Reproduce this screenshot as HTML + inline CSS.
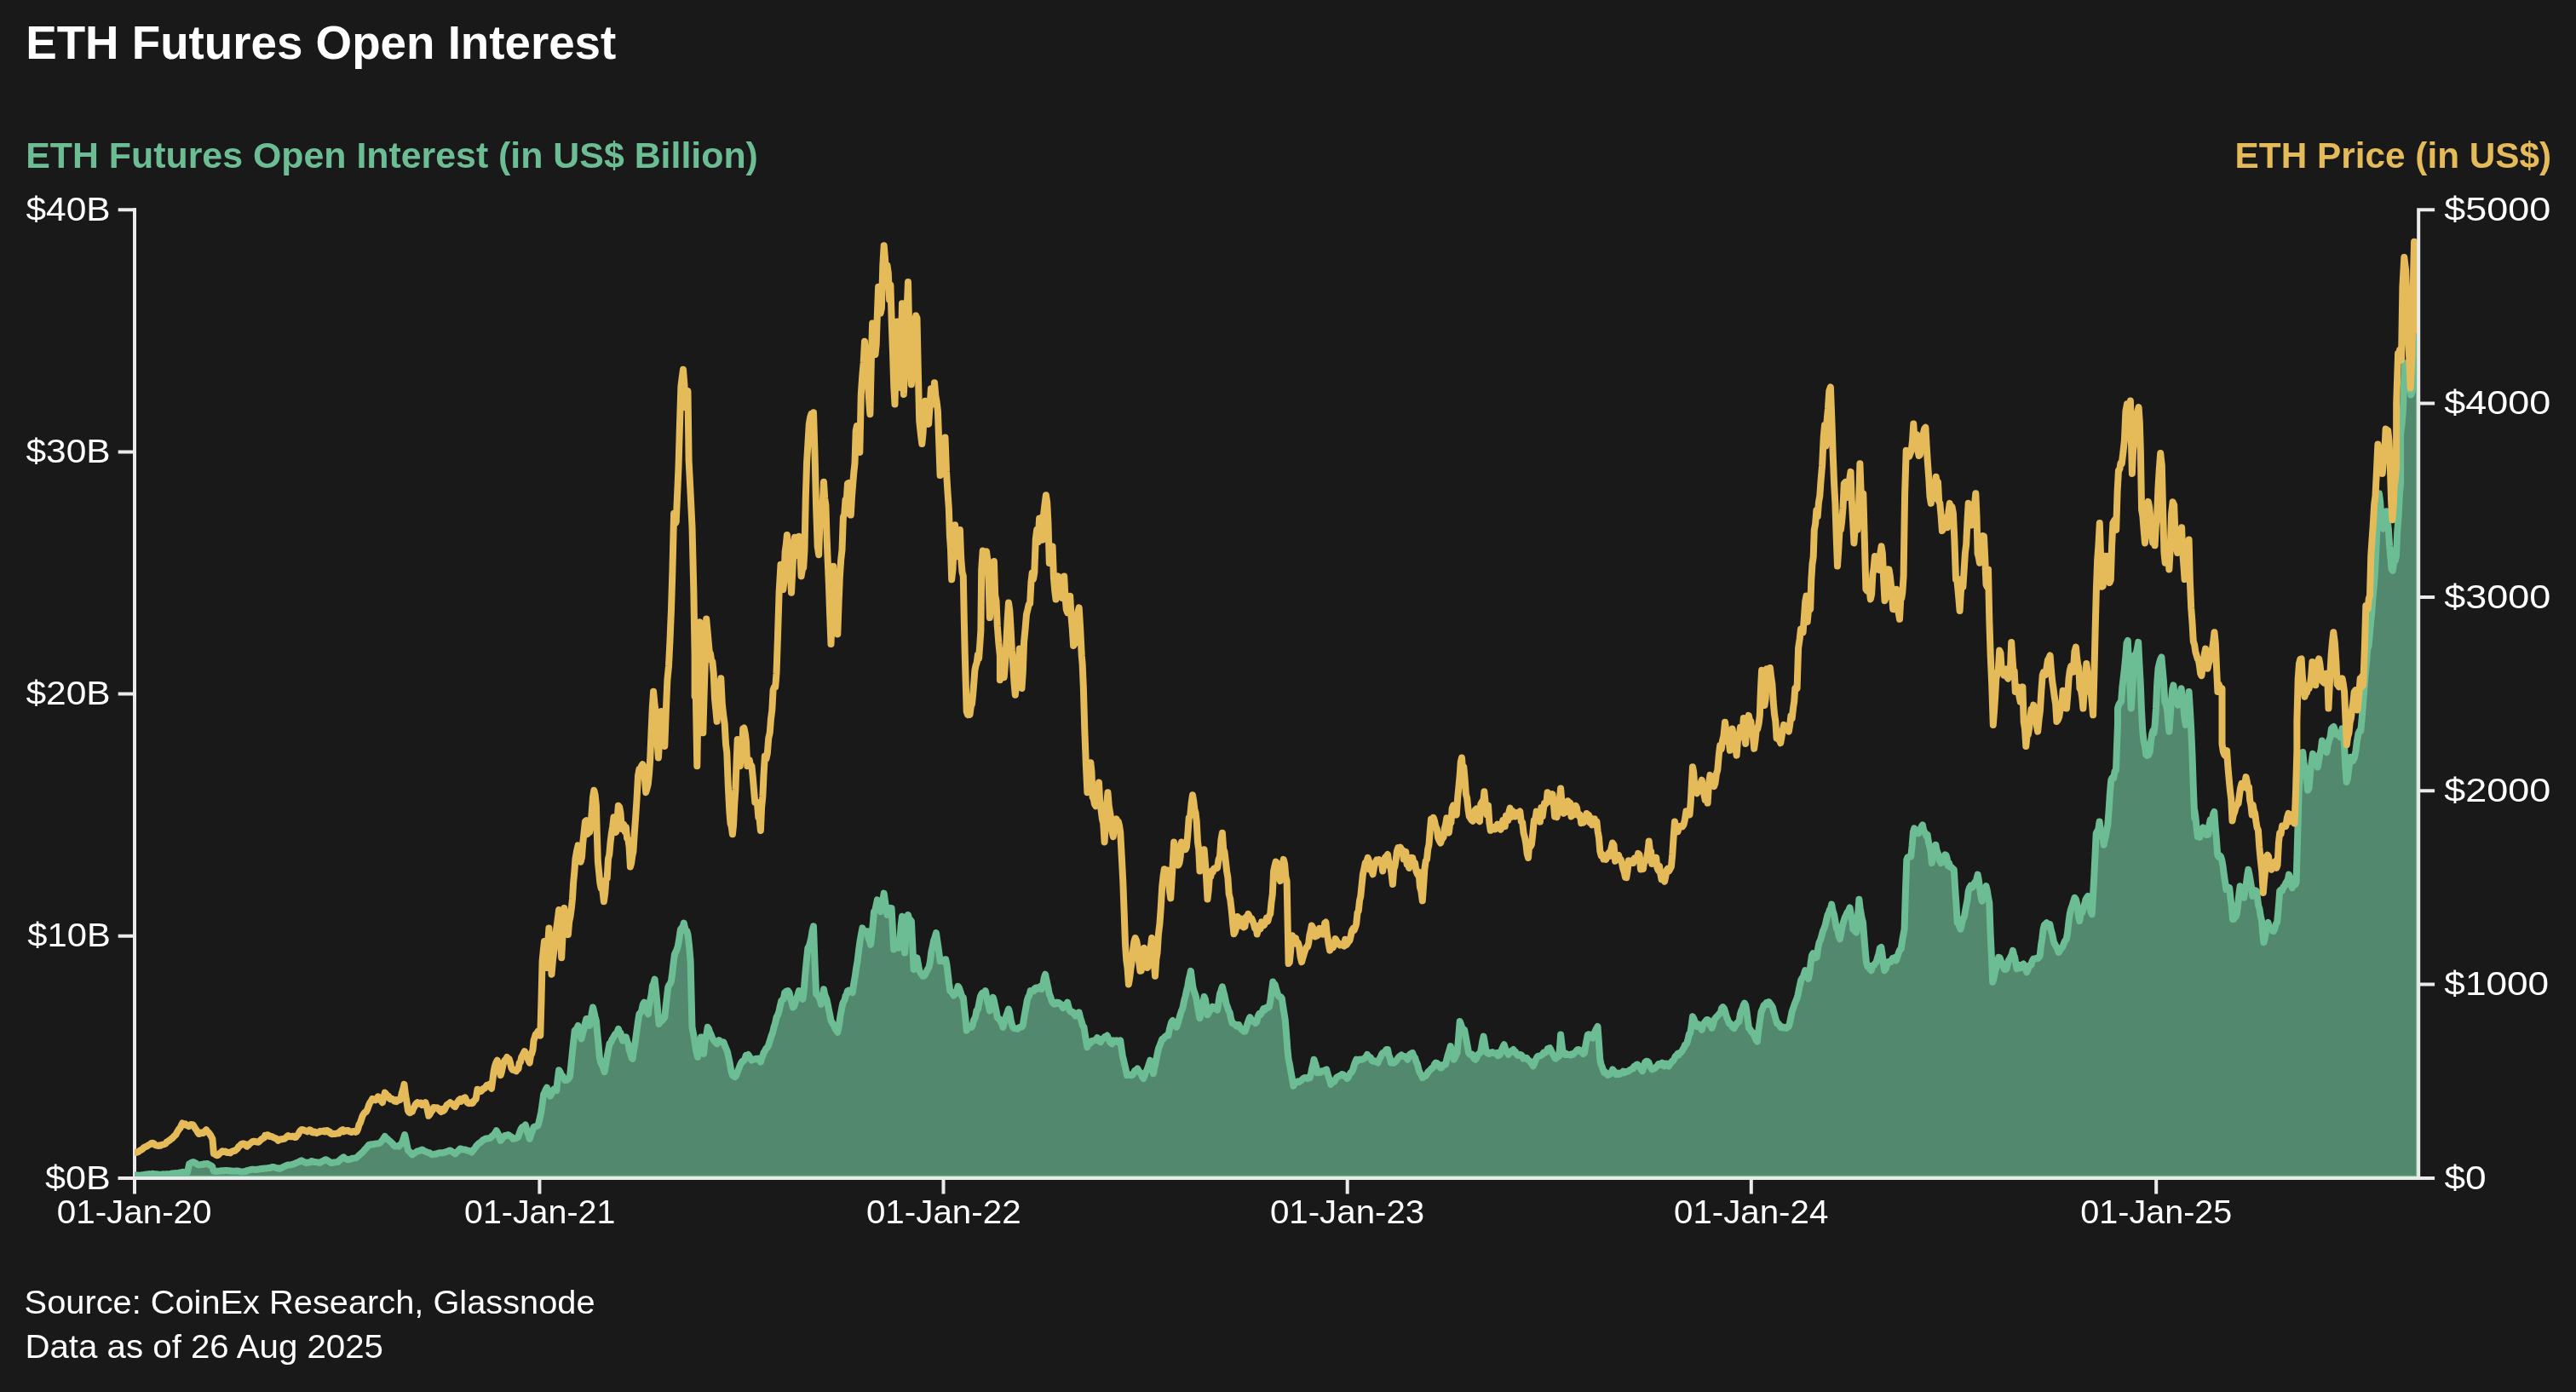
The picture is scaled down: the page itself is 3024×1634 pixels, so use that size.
<!DOCTYPE html>
<html lang="en"><head><meta charset="utf-8"><title>ETH Futures Open Interest</title>
<style>html,body{margin:0;padding:0;background:#191919;}body{width:3024px;height:1634px;overflow:hidden;}svg{display:block;will-change:transform;}text{font-family:"Liberation Sans", sans-serif;}</style></head><body>
<svg width="3024" height="1634" viewBox="0 0 3024 1634">
<rect width="3024" height="1634" fill="#191919"/>
<defs><clipPath id="cp"><rect x="158.0" y="200" width="2681.2" height="1183.0"/></clipPath></defs>
<path d="M158.0,244.2 V1401.5 M138.7,1383.0 H158.0" fill="none" stroke="#ebebeb" stroke-width="4" stroke-linecap="butt"/>
<g clip-path="url(#cp)" stroke-linejoin="round" stroke-linecap="round">
<path d="M158.0,1379.2 L159.1,1379.8 L160.5,1379.6 L161.8,1379.6 L163.2,1379.7 L164.5,1379.8 L165.8,1379.5 L167.2,1379.3 L168.5,1379.1 L169.8,1378.8 L171.2,1378.6 L172.5,1378.4 L173.9,1378.4 L175.2,1378.1 L176.6,1378.4 L177.9,1378.4 L179.3,1377.7 L180.6,1378.2 L182.0,1378.2 L183.4,1378.2 L184.7,1378.4 L186.1,1378.6 L187.4,1378.8 L188.8,1378.7 L190.1,1378.7 L191.4,1378.3 L192.7,1378.7 L194.0,1378.4 L195.3,1378.3 L196.6,1378.3 L197.8,1378.3 L199.1,1378.3 L200.4,1378.4 L201.7,1377.5 L203.0,1377.4 L204.3,1377.3 L205.6,1377.1 L206.9,1377.5 L208.2,1377.2 L209.5,1377.1 L210.8,1376.6 L212.1,1376.6 L213.4,1376.1 L214.7,1375.7 L216.0,1376.2 L217.3,1376.4 L218.6,1376.3 L219.9,1376.3 L221.1,1371.1 L222.2,1366.0 L223.7,1365.6 L225.2,1364.5 L226.7,1364.1 L227.9,1364.4 L229.1,1365.3 L230.3,1365.8 L231.5,1367.0 L232.9,1367.4 L234.4,1367.4 L235.9,1367.1 L237.3,1367.0 L238.5,1366.8 L239.7,1366.3 L240.8,1366.2 L242.0,1366.2 L243.2,1366.0 L244.6,1366.6 L246.1,1367.5 L247.6,1368.1 L249.0,1369.0 L250.9,1374.8 L252.2,1374.7 L253.5,1375.1 L254.8,1375.0 L256.1,1374.7 L257.4,1374.7 L258.7,1374.5 L260.0,1374.3 L261.3,1374.2 L262.6,1374.4 L263.9,1374.0 L265.2,1374.1 L266.5,1374.1 L267.8,1374.2 L269.0,1374.5 L270.3,1374.3 L271.6,1374.6 L272.9,1374.7 L274.2,1374.8 L275.5,1374.7 L276.8,1374.6 L278.1,1374.4 L279.4,1374.5 L280.7,1375.0 L282.0,1375.2 L283.3,1375.4 L284.6,1375.5 L285.9,1375.4 L287.2,1375.0 L288.5,1375.1 L289.8,1374.2 L291.1,1373.9 L292.3,1373.7 L293.6,1373.2 L294.9,1372.9 L296.2,1372.7 L297.5,1372.8 L298.8,1372.9 L300.1,1373.0 L301.4,1372.8 L302.7,1372.7 L304.0,1372.5 L305.3,1372.3 L306.6,1371.9 L307.9,1371.8 L309.2,1371.9 L310.5,1371.6 L311.8,1371.5 L313.1,1371.4 L314.4,1371.1 L315.6,1371.1 L316.9,1371.0 L318.2,1370.4 L319.5,1369.9 L320.8,1369.9 L322.1,1370.3 L323.4,1370.8 L324.7,1371.1 L326.0,1371.4 L327.3,1371.3 L328.6,1371.9 L329.9,1371.1 L331.2,1370.8 L332.5,1369.9 L333.7,1369.2 L335.0,1368.7 L336.3,1368.0 L337.7,1367.6 L339.1,1367.5 L340.5,1367.4 L341.8,1367.2 L343.2,1366.9 L344.6,1366.4 L346.0,1366.0 L347.3,1365.3 L348.6,1364.7 L349.9,1364.3 L351.2,1363.7 L352.5,1362.9 L353.8,1362.2 L355.2,1363.1 L356.7,1363.8 L358.2,1364.4 L359.6,1365.1 L360.8,1364.9 L362.0,1364.5 L363.1,1364.4 L364.3,1364.2 L365.5,1363.1 L366.9,1363.2 L368.3,1364.1 L369.7,1363.9 L371.0,1364.1 L372.4,1364.5 L373.8,1364.6 L375.2,1365.1 L376.5,1364.3 L377.8,1363.5 L379.0,1363.0 L380.3,1362.3 L381.6,1361.5 L382.9,1361.2 L384.3,1362.2 L385.8,1363.2 L387.2,1364.1 L388.7,1365.1 L390.0,1364.9 L391.3,1364.5 L392.6,1364.4 L393.9,1364.3 L395.2,1364.1 L396.5,1364.1 L397.9,1362.7 L399.2,1361.5 L400.6,1360.2 L401.9,1359.3 L403.3,1358.3 L404.5,1359.4 L405.8,1360.4 L407.0,1360.9 L408.2,1361.2 L409.6,1361.0 L411.0,1360.7 L412.4,1360.3 L413.7,1359.8 L415.1,1359.6 L416.5,1359.4 L417.9,1359.2 L419.2,1358.3 L420.5,1357.2 L421.8,1355.7 L423.0,1354.7 L424.3,1353.6 L425.6,1352.5 L426.9,1351.1 L428.2,1349.4 L429.5,1348.3 L430.8,1346.7 L432.1,1345.2 L433.4,1343.7 L434.7,1343.8 L436.0,1343.2 L437.2,1343.4 L438.5,1343.2 L439.8,1342.7 L441.1,1342.7 L442.3,1342.4 L443.5,1342.4 L444.6,1342.2 L445.8,1341.9 L447.0,1340.8 L448.2,1339.3 L449.4,1337.8 L450.6,1336.0 L451.8,1334.0 L453.0,1335.6 L454.2,1336.4 L455.5,1337.8 L456.7,1338.9 L458.1,1339.8 L459.6,1341.3 L461.1,1342.7 L462.5,1344.7 L463.9,1345.5 L465.4,1345.4 L466.9,1345.2 L468.3,1345.7 L469.6,1344.3 L470.9,1342.6 L472.2,1340.8 L473.6,1336.7 L475.1,1332.1 L476.4,1337.9 L477.7,1344.3 L479.0,1350.5 L480.2,1351.5 L481.4,1352.5 L482.7,1353.7 L483.9,1355.4 L485.3,1354.3 L486.8,1353.7 L488.2,1352.5 L489.7,1351.5 L491.1,1351.3 L492.6,1350.7 L494.1,1350.3 L495.5,1349.5 L496.9,1350.3 L498.4,1351.3 L499.9,1351.8 L501.3,1352.5 L502.8,1353.1 L504.2,1353.2 L505.7,1354.6 L507.1,1355.4 L508.4,1355.2 L509.7,1354.9 L511.0,1354.5 L512.3,1354.8 L513.6,1353.9 L514.9,1353.4 L516.2,1353.3 L517.5,1353.2 L518.8,1353.4 L520.1,1353.2 L521.4,1352.8 L522.7,1352.5 L524.2,1351.9 L525.6,1351.4 L527.0,1350.8 L528.5,1350.5 L530.0,1351.3 L531.4,1352.4 L532.8,1353.5 L534.3,1354.4 L535.8,1352.8 L537.2,1351.7 L538.6,1350.1 L540.1,1348.6 L541.3,1348.5 L542.5,1349.2 L543.6,1349.4 L544.8,1349.4 L546.0,1349.5 L547.3,1350.0 L548.6,1350.6 L549.9,1350.7 L551.1,1350.9 L552.4,1351.6 L553.7,1352.5 L555.2,1350.5 L556.6,1348.9 L558.0,1347.1 L559.5,1344.7 L560.8,1343.6 L562.1,1342.2 L563.4,1341.5 L564.7,1340.5 L566.0,1339.4 L567.3,1337.9 L568.6,1337.7 L569.9,1336.6 L571.2,1336.4 L572.5,1336.7 L573.8,1335.9 L575.1,1336.0 L576.4,1335.2 L577.7,1333.6 L579.0,1332.7 L580.2,1331.3 L581.5,1329.6 L582.8,1327.2 L584.0,1329.6 L585.2,1331.9 L586.5,1335.9 L587.7,1338.9 L588.9,1337.5 L590.1,1335.5 L591.3,1334.9 L592.5,1333.0 L593.8,1333.0 L595.1,1332.8 L596.4,1332.1 L597.6,1332.7 L598.8,1333.7 L599.9,1334.0 L601.1,1335.2 L602.3,1336.9 L603.8,1336.6 L605.2,1336.4 L606.6,1335.5 L608.1,1335.0 L609.3,1331.4 L610.5,1328.0 L611.7,1325.2 L612.9,1323.3 L614.2,1322.7 L615.5,1322.1 L616.8,1320.4 L618.0,1325.1 L619.2,1329.2 L620.5,1333.1 L621.7,1336.9 L622.9,1333.5 L624.1,1329.9 L625.3,1326.8 L626.5,1323.3 L627.7,1322.4 L629.0,1322.3 L630.2,1321.9 L631.4,1321.4 L632.7,1317.0 L633.9,1311.8 L635.2,1305.9 L636.7,1295.5 L638.2,1284.5 L639.5,1282.1 L640.7,1279.0 L642.0,1276.8 L643.3,1280.7 L644.6,1283.2 L645.9,1286.5 L647.3,1284.4 L648.6,1281.1 L650.0,1278.7 L651.1,1279.4 L652.2,1279.4 L653.3,1280.0 L654.7,1266.8 L656.1,1256.3 L657.5,1258.1 L658.9,1261.9 L660.2,1262.8 L661.6,1265.3 L663.0,1268.0 L664.2,1267.7 L665.4,1267.9 L666.5,1267.0 L667.7,1265.7 L668.9,1264.1 L670.4,1250.3 L671.8,1236.1 L673.2,1223.3 L674.7,1209.7 L676.0,1208.5 L677.3,1207.1 L678.6,1203.9 L679.9,1209.2 L681.2,1215.6 L682.5,1219.4 L684.0,1213.2 L685.4,1208.5 L686.8,1201.6 L688.3,1196.1 L689.6,1196.1 L690.9,1200.9 L692.2,1203.9 L693.5,1198.1 L694.7,1189.2 L696.0,1182.5 L697.3,1187.6 L698.6,1193.7 L699.9,1198.1 L701.2,1212.7 L702.5,1226.0 L703.8,1240.8 L705.2,1247.4 L706.7,1250.2 L708.1,1253.1 L709.6,1258.2 L710.8,1252.1 L712.0,1244.5 L713.1,1238.2 L714.3,1231.6 L715.5,1225.2 L717.0,1224.2 L718.4,1220.3 L719.8,1218.2 L721.3,1215.5 L722.4,1213.7 L723.6,1213.7 L724.8,1210.9 L725.9,1207.8 L727.2,1211.8 L728.5,1212.5 L729.7,1217.4 L731.0,1221.4 L732.3,1221.1 L733.6,1220.3 L734.9,1217.5 L736.2,1222.6 L737.5,1225.6 L738.8,1233.0 L740.0,1235.9 L741.3,1241.3 L742.6,1242.7 L743.9,1233.5 L745.2,1226.9 L746.5,1217.6 L747.8,1207.7 L749.1,1198.4 L750.4,1190.3 L751.9,1189.0 L753.3,1185.7 L754.8,1179.0 L756.2,1176.7 L757.4,1180.2 L758.5,1186.2 L759.7,1188.2 L760.9,1190.3 L762.1,1180.5 L763.4,1173.3 L764.6,1167.9 L765.9,1157.3 L767.2,1154.6 L768.6,1149.5 L769.9,1161.9 L771.2,1175.2 L772.4,1189.9 L773.7,1202.0 L775.0,1199.0 L776.3,1198.9 L777.7,1197.3 L779.0,1196.0 L780.3,1194.2 L781.6,1181.7 L782.9,1170.4 L784.2,1159.3 L785.5,1156.0 L786.7,1154.8 L788.0,1151.5 L789.3,1141.9 L790.6,1130.4 L791.9,1120.4 L793.2,1117.5 L794.5,1114.8 L795.8,1110.7 L797.3,1101.9 L798.9,1091.3 L800.2,1089.3 L801.5,1088.4 L802.8,1083.6 L804.0,1089.0 L805.1,1092.7 L806.3,1092.7 L807.5,1097.1 L809.0,1109.8 L810.6,1128.2 L812.5,1205.8 L813.8,1212.6 L815.1,1219.6 L816.4,1229.1 L817.8,1235.9 L819.1,1240.8 L820.4,1232.8 L821.7,1223.4 L823.0,1217.5 L824.5,1227.0 L826.1,1236.9 L827.2,1225.7 L828.4,1217.5 L829.6,1213.1 L830.7,1205.8 L832.0,1207.6 L833.2,1211.4 L834.5,1214.2 L835.8,1217.5 L837.2,1220.2 L838.7,1222.3 L840.1,1223.7 L841.6,1225.2 L842.9,1224.0 L844.2,1221.2 L845.5,1222.5 L846.8,1223.2 L848.1,1223.3 L849.4,1223.3 L850.5,1226.5 L851.7,1229.5 L852.9,1232.1 L854.0,1235.0 L855.3,1240.9 L856.5,1246.5 L857.8,1254.4 L859.1,1260.2 L860.4,1262.7 L861.7,1263.7 L863.0,1264.1 L864.5,1262.0 L865.9,1258.0 L867.3,1254.3 L868.8,1250.5 L870.2,1247.6 L871.6,1245.6 L873.0,1245.3 L874.4,1243.1 L875.8,1238.8 L877.1,1239.1 L878.4,1238.1 L879.8,1240.4 L881.1,1242.9 L882.4,1244.7 L883.9,1244.0 L885.3,1243.6 L886.8,1243.0 L888.2,1242.7 L889.4,1243.5 L890.5,1242.7 L891.7,1244.4 L892.9,1246.6 L894.1,1242.1 L895.4,1239.4 L896.6,1235.5 L897.9,1233.8 L899.1,1231.1 L900.4,1229.8 L901.7,1228.0 L903.1,1223.9 L904.4,1219.8 L905.7,1215.5 L907.2,1211.7 L908.6,1205.3 L910.0,1201.3 L911.5,1194.2 L913.0,1191.5 L914.4,1187.7 L915.8,1180.9 L917.3,1174.8 L918.6,1173.5 L919.9,1172.5 L921.2,1165.3 L922.5,1164.1 L923.8,1165.5 L925.1,1163.1 L926.5,1165.2 L928.0,1172.2 L929.5,1177.4 L930.9,1182.5 L932.3,1181.2 L933.7,1176.3 L935.1,1172.5 L936.5,1167.8 L937.9,1163.1 L939.0,1164.5 L940.2,1164.5 L941.4,1169.7 L942.5,1172.8 L943.7,1163.1 L944.9,1147.8 L946.0,1135.8 L947.2,1123.9 L948.4,1112.7 L949.7,1111.0 L951.0,1106.2 L952.3,1101.0 L953.6,1092.5 L955.0,1087.4 L956.5,1130.0 L958.1,1167.0 L959.5,1167.6 L961.0,1170.1 L962.5,1173.1 L963.9,1178.7 L965.5,1170.5 L967.0,1161.2 L968.2,1167.6 L969.4,1170.6 L970.5,1173.3 L971.7,1178.7 L973.0,1185.7 L974.2,1191.2 L975.5,1198.1 L976.8,1200.2 L978.1,1202.5 L979.4,1204.1 L980.7,1207.8 L982.0,1209.9 L983.3,1211.7 L984.8,1204.6 L986.2,1194.2 L987.6,1186.6 L989.1,1178.7 L990.3,1175.9 L991.5,1174.1 L992.6,1169.0 L993.8,1167.3 L995.0,1163.1 L996.5,1162.5 L997.9,1164.1 L999.3,1163.7 L1000.8,1165.1 L1002.2,1155.2 L1003.7,1146.7 L1005.1,1136.7 L1006.6,1128.2 L1008.0,1116.2 L1009.5,1105.1 L1011.0,1096.6 L1012.4,1089.4 L1013.9,1093.0 L1015.3,1093.9 L1016.8,1093.5 L1018.2,1093.3 L1019.5,1101.4 L1020.8,1104.2 L1022.1,1108.8 L1023.4,1097.2 L1024.7,1085.1 L1026.0,1070.0 L1027.3,1068.9 L1028.6,1062.5 L1029.9,1056.4 L1031.2,1062.1 L1032.5,1064.6 L1033.8,1070.0 L1035.1,1064.4 L1036.4,1056.6 L1037.7,1048.6 L1039.0,1057.8 L1040.2,1066.2 L1041.5,1073.9 L1042.8,1069.8 L1044.0,1066.3 L1045.3,1065.8 L1046.6,1066.1 L1047.9,1089.7 L1049.3,1114.6 L1050.8,1112.4 L1052.2,1111.9 L1053.6,1112.6 L1055.1,1112.7 L1056.4,1103.0 L1057.7,1086.0 L1059.0,1075.8 L1060.5,1095.2 L1062.1,1118.5 L1063.4,1101.1 L1064.7,1086.2 L1066.0,1073.9 L1067.3,1079.4 L1068.6,1079.7 L1069.9,1081.6 L1071.2,1108.2 L1072.6,1137.9 L1073.9,1132.9 L1075.2,1129.5 L1076.5,1124.3 L1077.8,1131.3 L1079.1,1138.7 L1080.4,1141.8 L1081.9,1143.5 L1083.3,1145.8 L1084.8,1145.6 L1086.2,1143.7 L1087.7,1140.6 L1089.1,1137.5 L1090.5,1135.6 L1092.0,1128.2 L1093.3,1117.2 L1094.6,1111.9 L1095.9,1104.9 L1097.5,1100.2 L1099.0,1095.2 L1100.2,1103.9 L1101.3,1110.8 L1102.4,1119.0 L1103.6,1128.2 L1104.9,1126.3 L1106.2,1127.0 L1107.6,1128.5 L1108.9,1126.5 L1110.2,1126.3 L1111.5,1133.1 L1112.8,1143.4 L1114.0,1154.0 L1115.3,1163.1 L1116.8,1164.2 L1118.2,1166.3 L1119.6,1168.6 L1121.1,1167.0 L1122.3,1165.7 L1123.4,1162.3 L1124.6,1157.9 L1125.8,1159.3 L1127.0,1162.6 L1128.3,1166.8 L1129.5,1170.1 L1130.8,1170.9 L1132.1,1183.6 L1133.4,1195.0 L1134.7,1209.7 L1136.2,1205.7 L1137.6,1206.1 L1139.0,1204.9 L1140.5,1205.8 L1141.7,1203.5 L1142.9,1198.0 L1144.0,1196.0 L1145.2,1193.4 L1146.4,1186.4 L1147.9,1184.9 L1149.3,1177.7 L1150.8,1170.2 L1152.2,1167.0 L1153.3,1165.4 L1154.5,1165.6 L1155.7,1165.3 L1156.8,1163.1 L1158.1,1169.7 L1159.3,1176.1 L1160.6,1179.8 L1161.9,1186.4 L1163.2,1181.3 L1164.5,1176.6 L1165.8,1170.9 L1167.0,1175.3 L1168.3,1181.5 L1169.5,1186.6 L1170.8,1194.2 L1172.1,1195.8 L1173.4,1196.1 L1174.8,1199.5 L1176.1,1201.5 L1177.4,1205.8 L1178.7,1201.4 L1180.0,1196.9 L1181.4,1191.9 L1182.7,1188.5 L1184.0,1184.5 L1185.3,1189.1 L1186.5,1196.5 L1187.8,1202.4 L1189.1,1205.8 L1190.5,1207.1 L1192.0,1207.3 L1193.5,1207.5 L1194.9,1207.8 L1196.4,1206.2 L1197.8,1205.6 L1199.2,1205.5 L1200.7,1203.9 L1202.0,1195.8 L1203.2,1189.0 L1204.5,1182.0 L1205.7,1174.8 L1207.0,1170.6 L1208.3,1168.4 L1209.7,1163.0 L1211.0,1163.6 L1212.3,1163.1 L1213.5,1163.4 L1214.7,1160.3 L1215.8,1159.6 L1217.0,1160.9 L1218.2,1159.3 L1219.3,1158.9 L1220.5,1160.4 L1221.7,1157.6 L1222.8,1161.2 L1224.2,1156.4 L1225.7,1147.9 L1227.1,1143.7 L1228.3,1149.8 L1229.4,1154.9 L1230.6,1160.1 L1231.8,1167.0 L1233.2,1170.0 L1234.7,1175.2 L1236.1,1177.4 L1237.6,1178.7 L1238.9,1178.4 L1240.2,1176.8 L1241.4,1177.8 L1242.7,1176.8 L1244.0,1177.8 L1245.3,1178.7 L1246.6,1180.8 L1247.9,1183.2 L1249.2,1181.2 L1250.5,1180.0 L1251.8,1178.8 L1253.1,1176.7 L1254.4,1182.0 L1255.7,1186.2 L1257.0,1187.8 L1258.3,1187.4 L1259.6,1188.2 L1260.9,1190.3 L1262.4,1192.4 L1263.8,1189.6 L1265.2,1191.5 L1266.7,1188.4 L1268.2,1194.9 L1269.6,1198.8 L1271.0,1203.9 L1272.5,1205.8 L1273.8,1214.7 L1275.1,1222.7 L1276.4,1229.1 L1277.7,1225.6 L1279.0,1225.0 L1280.3,1224.4 L1281.6,1221.9 L1282.9,1222.1 L1284.2,1221.4 L1285.5,1220.8 L1286.8,1220.6 L1288.1,1218.1 L1289.3,1220.1 L1290.6,1222.6 L1291.9,1223.3 L1293.2,1221.2 L1294.5,1219.2 L1295.8,1218.5 L1297.1,1216.9 L1298.4,1217.1 L1299.7,1215.5 L1301.2,1219.0 L1302.6,1222.9 L1304.0,1224.2 L1305.5,1225.2 L1306.9,1221.3 L1308.3,1221.6 L1309.7,1222.5 L1311.0,1221.5 L1312.4,1223.4 L1313.8,1222.8 L1315.2,1221.4 L1316.5,1230.6 L1317.8,1239.4 L1319.1,1244.7 L1320.4,1250.5 L1321.7,1255.7 L1323.0,1262.1 L1324.3,1262.1 L1325.6,1261.5 L1326.8,1261.5 L1328.1,1262.3 L1329.4,1261.8 L1330.7,1260.2 L1331.9,1257.2 L1333.1,1256.3 L1334.2,1256.4 L1335.4,1254.4 L1336.8,1257.3 L1338.2,1258.8 L1339.6,1260.6 L1341.0,1264.1 L1342.4,1266.0 L1343.7,1262.4 L1345.0,1258.7 L1346.3,1256.3 L1347.6,1252.7 L1348.9,1248.9 L1350.2,1244.7 L1351.5,1248.2 L1352.7,1253.5 L1354.0,1260.2 L1355.2,1253.0 L1356.4,1249.1 L1357.5,1242.7 L1358.7,1236.7 L1359.9,1231.1 L1361.4,1227.4 L1362.8,1223.8 L1364.2,1219.9 L1365.7,1219.4 L1367.2,1217.3 L1368.6,1216.3 L1370.0,1215.2 L1371.5,1215.5 L1372.8,1208.8 L1374.0,1204.1 L1375.3,1199.7 L1376.6,1198.1 L1377.8,1200.0 L1378.9,1200.8 L1380.0,1201.9 L1381.2,1205.8 L1382.7,1201.5 L1384.1,1196.3 L1385.5,1191.1 L1387.0,1186.4 L1388.2,1184.0 L1389.4,1178.1 L1390.5,1173.0 L1391.7,1168.9 L1392.9,1163.1 L1394.2,1158.0 L1395.4,1150.7 L1396.7,1145.2 L1397.9,1139.8 L1399.1,1148.9 L1400.3,1158.6 L1401.5,1162.9 L1402.7,1166.3 L1403.9,1170.0 L1405.1,1176.7 L1406.2,1183.5 L1407.3,1189.4 L1408.5,1195.2 L1409.8,1190.2 L1411.0,1184.0 L1412.3,1176.6 L1413.6,1170.0 L1414.9,1173.3 L1416.2,1181.5 L1417.5,1191.3 L1419.0,1188.9 L1420.4,1185.5 L1421.8,1185.1 L1423.3,1181.6 L1424.8,1182.2 L1426.2,1183.7 L1427.6,1183.8 L1429.1,1185.5 L1430.5,1176.5 L1432.0,1166.6 L1433.5,1162.6 L1434.9,1158.3 L1436.1,1163.7 L1437.3,1167.9 L1438.4,1173.0 L1439.6,1178.8 L1440.8,1181.6 L1442.2,1186.1 L1443.7,1188.7 L1445.1,1196.3 L1446.6,1201.0 L1447.9,1201.1 L1449.2,1202.3 L1450.4,1203.4 L1451.7,1204.6 L1453.0,1203.1 L1454.3,1203.0 L1455.5,1205.7 L1456.7,1207.3 L1457.8,1208.8 L1459.0,1209.1 L1460.2,1210.7 L1461.7,1210.5 L1463.1,1206.1 L1464.5,1201.5 L1466.0,1197.1 L1467.3,1194.2 L1468.6,1196.0 L1469.9,1198.8 L1471.2,1199.2 L1472.5,1199.1 L1473.8,1201.0 L1475.2,1199.8 L1476.7,1193.1 L1478.1,1190.1 L1479.6,1191.3 L1480.8,1189.2 L1482.1,1186.6 L1483.3,1184.1 L1484.6,1185.5 L1486.0,1183.1 L1487.3,1182.3 L1488.7,1182.9 L1490.1,1181.6 L1491.5,1173.4 L1492.9,1163.1 L1494.3,1152.5 L1495.5,1156.5 L1496.7,1155.8 L1497.8,1159.8 L1499.0,1164.1 L1500.5,1168.7 L1501.9,1170.0 L1503.3,1170.0 L1504.8,1171.9 L1506.1,1181.2 L1507.4,1189.2 L1508.7,1197.1 L1510.0,1213.0 L1511.3,1230.4 L1512.6,1243.7 L1514.0,1249.7 L1515.5,1258.8 L1517.0,1266.7 L1518.4,1274.8 L1519.7,1272.4 L1521.0,1271.0 L1522.3,1270.1 L1523.6,1269.4 L1524.9,1270.1 L1526.2,1269.0 L1527.7,1268.3 L1529.1,1266.7 L1530.5,1265.6 L1532.0,1265.1 L1533.5,1265.3 L1534.9,1266.1 L1536.3,1264.5 L1537.8,1265.1 L1539.0,1260.2 L1540.2,1253.8 L1541.3,1249.9 L1542.5,1243.7 L1543.9,1247.9 L1545.3,1253.1 L1546.7,1259.3 L1548.0,1258.1 L1549.3,1259.0 L1550.7,1258.8 L1552.0,1257.2 L1553.3,1257.3 L1554.6,1257.0 L1555.9,1255.9 L1557.2,1255.4 L1558.5,1260.5 L1559.8,1264.6 L1561.0,1268.2 L1562.3,1272.8 L1563.6,1270.2 L1564.9,1269.6 L1566.3,1269.8 L1567.6,1267.4 L1568.9,1265.1 L1570.2,1264.0 L1571.5,1263.6 L1572.8,1262.6 L1574.0,1262.4 L1575.3,1261.1 L1576.6,1261.2 L1577.8,1262.6 L1579.0,1264.0 L1580.1,1264.2 L1581.3,1265.9 L1582.5,1265.1 L1584.0,1261.9 L1585.4,1259.4 L1586.8,1258.3 L1588.3,1255.4 L1589.6,1250.6 L1590.9,1246.9 L1592.2,1243.7 L1593.7,1245.3 L1595.1,1243.8 L1596.5,1243.6 L1598.0,1243.7 L1599.4,1243.5 L1600.8,1243.0 L1602.2,1241.8 L1603.6,1240.7 L1605.0,1237.9 L1606.3,1239.8 L1607.6,1241.2 L1609.0,1241.5 L1610.3,1244.7 L1611.6,1245.7 L1613.0,1245.1 L1614.5,1246.0 L1616.0,1246.6 L1617.4,1247.6 L1618.9,1244.0 L1620.3,1241.4 L1621.8,1238.0 L1623.2,1236.0 L1624.7,1235.8 L1626.1,1234.0 L1627.5,1232.0 L1629.0,1232.1 L1630.3,1238.4 L1631.6,1241.7 L1632.9,1247.6 L1634.4,1247.6 L1635.8,1247.9 L1637.2,1247.0 L1638.7,1245.7 L1640.0,1243.9 L1641.3,1241.9 L1642.6,1240.4 L1643.9,1239.5 L1645.2,1238.5 L1646.5,1239.8 L1648.0,1239.8 L1649.4,1240.4 L1650.8,1241.7 L1652.3,1243.7 L1653.5,1241.2 L1654.7,1238.1 L1655.8,1237.2 L1657.0,1236.5 L1658.2,1236.0 L1659.7,1240.2 L1661.1,1241.6 L1662.5,1246.3 L1664.0,1249.5 L1665.5,1255.9 L1666.9,1259.5 L1668.3,1261.2 L1669.8,1265.1 L1671.1,1264.3 L1672.4,1263.6 L1673.7,1262.9 L1675.0,1261.3 L1676.3,1258.5 L1677.6,1257.3 L1678.9,1256.1 L1680.2,1254.5 L1681.4,1253.7 L1682.7,1252.6 L1684.0,1249.4 L1685.3,1247.6 L1686.8,1247.9 L1688.2,1248.9 L1689.6,1252.1 L1691.1,1253.4 L1692.3,1253.3 L1693.5,1250.2 L1694.6,1250.9 L1695.8,1249.6 L1697.0,1249.5 L1698.5,1242.9 L1699.9,1237.6 L1701.3,1233.5 L1702.8,1228.2 L1704.1,1234.2 L1705.4,1238.9 L1706.7,1243.7 L1708.0,1241.4 L1709.3,1238.5 L1710.6,1236.0 L1712.2,1217.3 L1713.7,1199.1 L1715.0,1202.3 L1716.4,1206.5 L1717.8,1207.8 L1719.1,1208.8 L1720.3,1214.9 L1721.6,1222.2 L1722.8,1228.5 L1724.1,1236.0 L1725.4,1237.6 L1726.7,1238.2 L1728.0,1237.6 L1729.3,1240.5 L1730.6,1242.7 L1731.9,1243.7 L1733.4,1241.8 L1734.8,1238.0 L1736.2,1237.0 L1737.7,1236.0 L1739.0,1230.2 L1740.3,1222.1 L1741.6,1216.6 L1742.9,1223.9 L1744.2,1232.2 L1745.5,1236.0 L1746.8,1236.2 L1748.1,1237.0 L1749.4,1235.6 L1750.7,1235.9 L1752.0,1235.1 L1753.3,1236.0 L1754.6,1236.3 L1755.9,1236.9 L1757.2,1236.0 L1758.4,1239.2 L1759.7,1238.7 L1761.0,1237.9 L1762.2,1233.9 L1763.3,1231.2 L1764.5,1228.5 L1765.7,1226.3 L1767.0,1230.8 L1768.2,1234.6 L1769.5,1235.2 L1770.7,1237.9 L1771.9,1235.9 L1773.1,1235.2 L1774.2,1233.6 L1775.4,1233.6 L1776.6,1232.1 L1777.9,1235.4 L1779.2,1234.9 L1780.4,1237.2 L1781.7,1239.1 L1783.0,1238.9 L1784.3,1237.9 L1785.6,1238.1 L1786.9,1239.5 L1788.2,1242.6 L1789.5,1241.8 L1790.8,1242.4 L1792.1,1241.8 L1793.4,1243.7 L1794.7,1244.8 L1795.9,1245.7 L1797.2,1247.5 L1798.5,1248.8 L1799.8,1251.5 L1801.0,1248.7 L1802.2,1245.6 L1803.3,1243.2 L1804.5,1240.7 L1805.7,1239.8 L1807.0,1239.6 L1808.3,1239.2 L1809.6,1238.5 L1810.8,1237.8 L1812.1,1235.6 L1813.4,1236.0 L1814.6,1235.1 L1815.8,1233.7 L1816.9,1231.1 L1818.1,1230.7 L1819.3,1230.1 L1820.8,1233.0 L1822.2,1236.3 L1823.6,1238.7 L1825.1,1241.8 L1826.3,1242.6 L1827.6,1241.1 L1828.8,1240.6 L1830.1,1239.8 L1831.1,1229.2 L1832.1,1214.6 L1833.4,1225.5 L1834.8,1236.0 L1836.1,1236.6 L1837.4,1238.0 L1838.7,1236.9 L1839.9,1238.0 L1841.2,1237.9 L1842.5,1237.9 L1843.8,1238.7 L1845.1,1237.4 L1846.4,1237.8 L1847.7,1236.8 L1849.0,1235.4 L1850.3,1234.0 L1851.7,1232.3 L1853.1,1232.1 L1854.5,1232.5 L1855.8,1234.5 L1857.2,1235.7 L1858.6,1237.0 L1860.0,1236.0 L1861.3,1227.8 L1862.6,1221.1 L1863.9,1214.6 L1865.4,1214.2 L1866.8,1216.8 L1868.2,1217.0 L1869.7,1218.5 L1871.2,1213.6 L1872.6,1210.5 L1874.0,1207.6 L1875.5,1204.9 L1876.9,1223.6 L1878.3,1243.7 L1879.5,1249.4 L1880.8,1252.5 L1882.0,1256.1 L1883.3,1259.3 L1884.6,1258.6 L1885.9,1260.2 L1887.3,1261.8 L1888.6,1260.8 L1889.9,1261.2 L1891.5,1259.1 L1893.0,1255.4 L1894.5,1256.8 L1895.9,1259.1 L1897.3,1261.3 L1898.8,1261.2 L1900.1,1259.7 L1901.4,1260.9 L1902.7,1259.7 L1904.0,1259.1 L1905.3,1257.8 L1906.6,1259.3 L1907.9,1258.0 L1909.2,1258.2 L1910.5,1257.8 L1911.8,1257.6 L1913.1,1256.2 L1914.4,1255.4 L1915.7,1254.7 L1917.0,1254.5 L1918.2,1251.9 L1919.5,1251.5 L1920.8,1250.0 L1922.1,1249.5 L1923.3,1250.6 L1924.5,1252.1 L1925.6,1253.5 L1926.8,1255.7 L1928.0,1257.3 L1929.2,1254.0 L1930.3,1249.8 L1931.4,1246.7 L1932.6,1245.7 L1934.0,1246.0 L1935.4,1247.1 L1936.8,1251.5 L1938.2,1253.4 L1939.6,1255.4 L1941.0,1254.6 L1942.5,1254.2 L1944.0,1252.5 L1945.4,1251.5 L1946.9,1249.0 L1948.3,1249.2 L1949.8,1249.8 L1951.2,1247.6 L1952.5,1248.9 L1953.8,1251.4 L1955.1,1248.6 L1956.4,1248.6 L1957.7,1250.5 L1959.0,1251.5 L1960.3,1249.4 L1961.6,1247.3 L1962.9,1245.6 L1964.2,1245.2 L1965.5,1242.9 L1966.8,1239.8 L1968.1,1239.0 L1969.4,1237.0 L1970.7,1238.2 L1971.9,1235.9 L1973.2,1235.3 L1974.5,1234.0 L1975.7,1231.3 L1976.9,1229.9 L1978.0,1226.5 L1979.2,1226.3 L1980.4,1224.3 L1981.7,1219.3 L1982.9,1213.8 L1984.2,1212.7 L1985.6,1204.2 L1987.0,1193.3 L1988.2,1195.5 L1989.5,1199.0 L1990.8,1202.4 L1992.0,1204.9 L1993.5,1202.3 L1994.9,1205.6 L1996.3,1206.0 L1997.8,1208.8 L1999.2,1203.0 L2000.7,1200.6 L2002.1,1199.0 L2003.6,1197.1 L2004.8,1197.1 L2006.0,1198.6 L2007.1,1203.1 L2008.3,1203.7 L2009.5,1206.8 L2011.0,1203.0 L2012.4,1197.0 L2013.8,1195.0 L2015.3,1193.3 L2016.8,1192.0 L2018.2,1190.1 L2019.6,1189.4 L2021.1,1183.6 L2022.5,1182.2 L2024.0,1183.9 L2025.5,1188.4 L2026.9,1193.8 L2028.3,1197.1 L2029.8,1201.3 L2031.2,1201.2 L2032.7,1203.8 L2034.1,1206.0 L2035.6,1207.1 L2036.8,1204.9 L2038.0,1202.8 L2039.1,1200.9 L2040.3,1200.0 L2041.5,1199.4 L2042.8,1191.0 L2044.1,1186.7 L2045.4,1183.9 L2046.7,1179.9 L2047.9,1177.6 L2049.2,1180.0 L2050.5,1187.6 L2051.8,1198.0 L2053.1,1207.1 L2054.6,1208.3 L2056.0,1211.4 L2057.4,1212.0 L2058.9,1214.9 L2060.2,1217.9 L2061.5,1220.6 L2062.8,1222.7 L2064.0,1212.3 L2065.2,1203.7 L2066.3,1196.1 L2067.5,1187.7 L2069.1,1184.3 L2070.6,1180.0 L2072.1,1179.8 L2073.5,1177.2 L2074.9,1179.0 L2076.4,1176.1 L2077.8,1177.8 L2079.3,1179.9 L2080.8,1182.0 L2082.2,1187.7 L2083.5,1192.3 L2084.8,1196.8 L2086.1,1201.3 L2087.6,1201.3 L2089.0,1203.5 L2090.4,1205.9 L2091.9,1205.2 L2093.2,1206.8 L2094.5,1206.6 L2095.8,1205.9 L2097.1,1206.8 L2098.4,1205.8 L2099.7,1205.2 L2101.0,1200.9 L2102.3,1194.4 L2103.6,1187.7 L2105.1,1183.4 L2106.5,1179.3 L2107.9,1175.7 L2109.4,1172.2 L2110.6,1168.0 L2111.8,1161.6 L2112.9,1156.7 L2114.1,1150.9 L2115.3,1148.5 L2116.6,1147.3 L2117.8,1143.5 L2119.1,1139.2 L2120.4,1143.0 L2121.7,1145.8 L2123.0,1148.9 L2124.3,1142.4 L2125.6,1130.7 L2126.9,1121.7 L2128.3,1119.3 L2129.8,1120.2 L2131.2,1124.4 L2132.7,1123.7 L2134.1,1113.7 L2135.6,1106.1 L2137.1,1103.4 L2138.5,1098.4 L2139.9,1093.0 L2141.4,1089.7 L2142.9,1085.0 L2144.3,1079.0 L2145.5,1074.0 L2146.7,1071.8 L2147.8,1068.0 L2149.0,1066.6 L2150.2,1061.6 L2151.6,1069.4 L2153.1,1073.7 L2154.6,1082.5 L2156.0,1090.7 L2157.3,1091.1 L2158.6,1099.2 L2159.9,1102.3 L2161.3,1095.3 L2162.8,1086.9 L2164.2,1081.9 L2165.7,1077.1 L2167.1,1074.4 L2168.6,1070.9 L2170.1,1069.0 L2171.5,1065.5 L2172.8,1073.1 L2174.1,1080.1 L2175.4,1090.7 L2176.7,1086.3 L2178.0,1093.6 L2179.3,1094.6 L2180.9,1076.9 L2182.4,1055.7 L2183.6,1065.8 L2184.7,1072.4 L2185.8,1078.4 L2187.0,1082.9 L2188.3,1099.5 L2189.6,1115.9 L2190.9,1129.5 L2192.3,1134.4 L2193.8,1133.6 L2195.2,1137.6 L2196.7,1139.2 L2197.9,1134.9 L2199.1,1133.0 L2200.2,1132.8 L2201.4,1130.6 L2202.6,1129.5 L2204.1,1124.0 L2205.5,1119.7 L2206.9,1112.9 L2208.4,1112.0 L2209.7,1120.6 L2211.0,1131.9 L2212.3,1139.2 L2213.8,1136.8 L2215.2,1131.8 L2216.7,1129.0 L2218.1,1129.5 L2219.4,1129.3 L2220.7,1126.8 L2222.0,1124.7 L2223.3,1125.1 L2224.6,1123.9 L2225.9,1127.6 L2227.3,1123.2 L2228.8,1118.3 L2230.2,1115.1 L2231.7,1114.0 L2233.0,1104.9 L2234.3,1097.8 L2235.6,1090.7 L2236.9,1047.3 L2238.3,1009.2 L2239.6,1006.2 L2240.8,1006.3 L2242.1,1005.8 L2243.3,1005.3 L2244.6,992.9 L2245.9,976.8 L2247.2,972.3 L2248.5,978.4 L2249.8,978.0 L2251.0,975.5 L2252.3,978.1 L2253.5,976.4 L2254.6,972.8 L2255.8,970.2 L2256.9,968.4 L2258.3,975.4 L2259.8,977.4 L2261.2,981.0 L2262.7,980.0 L2264.0,989.1 L2265.2,993.2 L2266.5,999.8 L2267.8,1013.0 L2269.0,1007.9 L2270.1,1005.5 L2271.2,1000.3 L2272.4,991.7 L2273.6,998.4 L2274.8,1001.3 L2275.9,1004.4 L2277.1,1010.4 L2278.3,1013.0 L2279.6,1011.4 L2280.8,1011.8 L2282.1,1005.7 L2283.3,1003.3 L2284.5,1004.0 L2285.7,1007.7 L2286.8,1016.1 L2288.0,1013.0 L2289.4,1017.8 L2290.9,1017.9 L2292.4,1019.8 L2293.8,1020.8 L2295.1,1042.4 L2296.4,1060.9 L2297.7,1082.9 L2299.0,1082.3 L2300.3,1087.8 L2301.6,1090.7 L2303.1,1084.2 L2304.5,1078.2 L2305.9,1076.2 L2307.4,1067.4 L2308.6,1061.3 L2309.7,1055.1 L2310.8,1045.8 L2312.0,1042.2 L2313.3,1039.8 L2314.6,1041.9 L2315.8,1041.3 L2317.1,1038.3 L2318.2,1035.7 L2319.4,1036.5 L2320.5,1031.4 L2321.7,1026.6 L2323.0,1034.0 L2324.2,1043.4 L2325.5,1052.9 L2326.8,1057.7 L2328.0,1050.7 L2329.2,1047.0 L2330.3,1042.8 L2331.5,1040.2 L2332.8,1045.2 L2334.0,1053.3 L2335.3,1059.6 L2336.6,1095.7 L2337.9,1122.9 L2339.2,1152.8 L2340.6,1148.0 L2342.0,1140.6 L2343.4,1136.0 L2344.8,1130.7 L2346.2,1123.7 L2347.6,1124.2 L2349.1,1128.8 L2350.6,1130.7 L2352.0,1135.3 L2353.2,1138.0 L2354.4,1138.1 L2355.5,1137.3 L2356.7,1132.3 L2357.9,1127.6 L2359.2,1125.4 L2360.4,1122.9 L2361.7,1120.6 L2362.9,1115.9 L2364.1,1120.8 L2365.2,1124.0 L2366.4,1131.5 L2367.6,1137.3 L2368.9,1133.5 L2370.2,1132.9 L2371.4,1136.3 L2372.7,1134.6 L2374.0,1132.9 L2375.3,1131.4 L2376.6,1133.9 L2377.9,1137.8 L2379.2,1141.1 L2380.5,1138.5 L2381.8,1134.2 L2383.1,1132.7 L2384.4,1132.8 L2385.7,1127.9 L2387.0,1125.6 L2388.3,1125.6 L2389.6,1125.3 L2390.8,1124.6 L2392.1,1125.0 L2393.4,1123.8 L2394.7,1121.7 L2396.0,1109.9 L2397.3,1101.8 L2398.6,1090.7 L2399.9,1085.9 L2401.2,1084.6 L2402.5,1083.2 L2403.8,1085.3 L2405.1,1087.8 L2406.4,1084.9 L2407.8,1092.2 L2409.3,1097.2 L2410.8,1105.3 L2412.2,1108.2 L2413.6,1110.7 L2415.1,1113.4 L2416.6,1118.0 L2418.0,1115.9 L2419.3,1114.0 L2420.6,1112.5 L2421.9,1110.2 L2423.2,1106.3 L2424.5,1103.9 L2425.8,1102.3 L2427.1,1095.0 L2428.4,1082.8 L2429.7,1073.2 L2431.1,1067.1 L2432.6,1063.0 L2434.1,1058.3 L2435.5,1053.8 L2436.9,1055.8 L2438.4,1061.8 L2439.9,1075.0 L2441.3,1081.0 L2442.8,1071.4 L2444.2,1071.5 L2445.7,1066.7 L2447.1,1061.6 L2448.4,1056.0 L2449.7,1053.8 L2451.0,1051.9 L2452.2,1058.1 L2453.3,1061.9 L2454.5,1070.3 L2455.7,1073.2 L2456.9,1053.7 L2458.2,1030.5 L2459.4,1006.0 L2460.7,978.1 L2462.0,975.7 L2463.3,973.4 L2464.6,964.5 L2465.9,976.2 L2467.1,981.2 L2468.4,981.6 L2469.7,991.7 L2470.8,986.0 L2472.0,980.8 L2473.2,973.8 L2474.3,968.4 L2475.6,951.3 L2476.9,931.0 L2478.2,916.0 L2479.6,912.9 L2481.1,913.6 L2482.6,905.4 L2484.0,904.3 L2485.0,875.6 L2486.0,850.0 L2486.0,831.5 L2487.4,827.0 L2488.7,824.8 L2490.1,823.7 L2491.4,806.4 L2492.6,796.3 L2493.9,784.9 L2495.2,771.9 L2496.5,755.2 L2497.8,751.9 L2499.1,780.0 L2500.4,803.4 L2501.7,831.5 L2503.0,815.0 L2504.3,790.4 L2505.6,769.4 L2506.8,768.0 L2507.9,766.1 L2509.0,760.9 L2510.2,753.9 L2511.5,780.1 L2512.8,803.5 L2514.0,834.1 L2515.3,858.7 L2516.6,870.0 L2517.9,875.4 L2519.2,885.8 L2520.6,887.0 L2522.1,886.3 L2523.6,883.1 L2525.0,870.3 L2526.2,861.7 L2527.3,857.8 L2528.5,860.6 L2529.7,850.9 L2531.0,831.2 L2532.2,802.5 L2533.5,784.9 L2534.8,778.9 L2536.1,774.2 L2537.4,771.3 L2538.7,786.0 L2540.0,800.6 L2541.3,823.7 L2542.6,826.8 L2543.9,832.1 L2545.1,845.5 L2546.4,858.7 L2547.7,840.7 L2548.9,822.9 L2550.2,809.4 L2551.4,804.3 L2552.8,816.8 L2554.1,820.5 L2555.5,822.9 L2556.8,827.6 L2558.1,815.6 L2559.4,813.6 L2560.7,808.2 L2562.0,824.0 L2563.2,830.8 L2564.5,843.1 L2565.8,850.9 L2567.1,834.8 L2568.3,829.9 L2569.6,812.1 L2570.9,832.8 L2572.2,855.8 L2573.5,885.8 L2574.8,924.4 L2576.2,960.0 L2576.2,950.9 L2577.4,959.1 L2578.7,972.7 L2579.9,982.0 L2581.2,979.5 L2582.4,982.8 L2583.7,974.9 L2584.9,974.2 L2586.2,971.3 L2587.4,975.7 L2588.7,977.7 L2590.0,980.0 L2591.2,979.9 L2592.3,979.7 L2593.5,968.1 L2594.7,962.6 L2595.8,965.6 L2597.0,961.0 L2598.2,955.6 L2599.3,952.9 L2600.6,970.5 L2601.9,985.4 L2603.2,1003.3 L2604.4,1005.8 L2605.7,1004.3 L2606.9,1005.4 L2608.2,1009.2 L2609.5,1016.6 L2610.8,1026.9 L2612.0,1034.8 L2613.3,1044.1 L2614.6,1040.9 L2615.9,1042.7 L2617.2,1042.2 L2618.5,1054.9 L2619.7,1063.6 L2621.0,1079.0 L2622.2,1078.9 L2623.3,1073.7 L2624.5,1076.1 L2625.7,1073.2 L2627.0,1064.3 L2628.3,1050.5 L2629.6,1040.2 L2630.8,1042.9 L2631.9,1043.8 L2633.0,1045.2 L2634.2,1053.8 L2635.5,1045.3 L2636.8,1038.3 L2638.0,1029.0 L2639.3,1020.8 L2640.6,1026.8 L2641.8,1034.0 L2643.1,1041.7 L2644.3,1051.9 L2645.5,1050.6 L2646.7,1049.1 L2647.8,1045.4 L2649.0,1046.0 L2650.2,1055.8 L2651.3,1063.5 L2652.5,1066.9 L2653.7,1075.2 L2655.0,1080.7 L2656.2,1095.3 L2657.5,1106.2 L2658.8,1101.3 L2660.1,1092.7 L2661.3,1086.8 L2662.6,1082.9 L2663.8,1089.0 L2665.1,1090.2 L2666.3,1090.2 L2667.6,1092.6 L2669.0,1093.0 L2670.3,1089.8 L2671.7,1084.7 L2673.1,1082.9 L2674.6,1066.8 L2676.2,1046.0 L2677.6,1044.4 L2679.1,1045.5 L2680.6,1040.9 L2682.0,1040.2 L2683.2,1036.9 L2684.5,1034.7 L2685.8,1032.6 L2687.0,1026.6 L2688.3,1030.4 L2689.6,1038.9 L2690.9,1042.2 L2692.1,1036.5 L2693.2,1034.1 L2694.4,1038.3 L2695.6,1036.3 L2697.1,984.5 L2698.7,927.6 L2699.8,912.0 L2701.0,902.5 L2702.2,894.9 L2703.3,883.0 L2704.5,895.0 L2705.7,903.8 L2706.8,905.5 L2708.0,914.7 L2709.2,927.6 L2710.6,924.9 L2712.1,906.5 L2713.6,895.6 L2715.0,884.9 L2716.4,887.1 L2717.9,888.1 L2719.4,895.0 L2720.8,900.5 L2722.1,893.0 L2723.4,884.8 L2724.6,880.4 L2725.9,869.4 L2727.2,873.3 L2728.6,880.1 L2730.0,881.0 L2731.3,883.0 L2732.7,874.2 L2734.1,869.1 L2735.5,865.6 L2736.9,855.4 L2738.3,853.9 L2739.6,853.0 L2740.9,856.9 L2742.2,861.8 L2743.4,860.9 L2744.7,863.0 L2746.0,861.6 L2747.2,865.2 L2748.3,863.4 L2749.5,855.4 L2750.7,857.8 L2752.0,874.2 L2753.3,900.4 L2754.6,917.9 L2755.8,914.3 L2757.1,903.2 L2758.3,895.8 L2759.6,888.8 L2760.8,890.0 L2762.0,893.2 L2763.1,891.0 L2764.3,887.8 L2765.5,881.1 L2766.9,869.9 L2768.4,861.1 L2769.9,857.8 L2771.3,857.8 L2772.7,843.1 L2774.0,826.4 L2775.4,808.2 L2776.7,792.0 L2778.0,778.7 L2779.3,761.6 L2780.6,758.1 L2781.8,745.6 L2783.1,730.5 L2784.3,718.9 L2785.5,701.0 L2786.7,689.1 L2787.8,675.1 L2789.0,652.9 L2790.3,624.2 L2791.6,599.1 L2792.9,579.2 L2794.2,589.4 L2795.4,608.5 L2796.7,614.1 L2797.9,620.6 L2799.1,613.9 L2800.2,611.2 L2801.4,600.3 L2802.6,610.2 L2803.8,620.6 L2805.1,641.1 L2806.3,653.5 L2807.6,668.4 L2808.9,669.8 L2810.3,659.0 L2811.7,658.4 L2813.0,652.9 L2814.3,622.7 L2815.6,606.6 L2816.8,582.0 L2818.1,567.5 L2818.1,510.0 L2819.5,498.2 L2820.9,482.6 L2821.9,452.0 L2822.9,426.3 L2824.8,434.1 L2826.2,439.2 L2827.7,457.4 L2829.0,452.4 L2830.3,463.5 L2831.6,460.3 L2833.1,449.6 L2834.5,434.1 L2835.5,447.7 L2836.5,424.4 L2838.4,387.5 L2839.2,1383.0 L158.0,1383.0 Z" fill="#51886e" stroke="none"/>
<path d="M2839.2,387.5 V1383.0 H158.0" fill="none" stroke="#6cbd94" stroke-width="6.4" stroke-linejoin="miter" stroke-linecap="butt"/>
<path d="M158.0,1379.2 L159.1,1379.8 L160.5,1379.6 L161.8,1379.6 L163.2,1379.7 L164.5,1379.8 L165.8,1379.5 L167.2,1379.3 L168.5,1379.1 L169.8,1378.8 L171.2,1378.6 L172.5,1378.4 L173.9,1378.4 L175.2,1378.1 L176.6,1378.4 L177.9,1378.4 L179.3,1377.7 L180.6,1378.2 L182.0,1378.2 L183.4,1378.2 L184.7,1378.4 L186.1,1378.6 L187.4,1378.8 L188.8,1378.7 L190.1,1378.7 L191.4,1378.3 L192.7,1378.7 L194.0,1378.4 L195.3,1378.3 L196.6,1378.3 L197.8,1378.3 L199.1,1378.3 L200.4,1378.4 L201.7,1377.5 L203.0,1377.4 L204.3,1377.3 L205.6,1377.1 L206.9,1377.5 L208.2,1377.2 L209.5,1377.1 L210.8,1376.6 L212.1,1376.6 L213.4,1376.1 L214.7,1375.7 L216.0,1376.2 L217.3,1376.4 L218.6,1376.3 L219.9,1376.3 L221.1,1371.1 L222.2,1366.0 L223.7,1365.6 L225.2,1364.5 L226.7,1364.1 L227.9,1364.4 L229.1,1365.3 L230.3,1365.8 L231.5,1367.0 L232.9,1367.4 L234.4,1367.4 L235.9,1367.1 L237.3,1367.0 L238.5,1366.8 L239.7,1366.3 L240.8,1366.2 L242.0,1366.2 L243.2,1366.0 L244.6,1366.6 L246.1,1367.5 L247.6,1368.1 L249.0,1369.0 L250.9,1374.8 L252.2,1374.7 L253.5,1375.1 L254.8,1375.0 L256.1,1374.7 L257.4,1374.7 L258.7,1374.5 L260.0,1374.3 L261.3,1374.2 L262.6,1374.4 L263.9,1374.0 L265.2,1374.1 L266.5,1374.1 L267.8,1374.2 L269.0,1374.5 L270.3,1374.3 L271.6,1374.6 L272.9,1374.7 L274.2,1374.8 L275.5,1374.7 L276.8,1374.6 L278.1,1374.4 L279.4,1374.5 L280.7,1375.0 L282.0,1375.2 L283.3,1375.4 L284.6,1375.5 L285.9,1375.4 L287.2,1375.0 L288.5,1375.1 L289.8,1374.2 L291.1,1373.9 L292.3,1373.7 L293.6,1373.2 L294.9,1372.9 L296.2,1372.7 L297.5,1372.8 L298.8,1372.9 L300.1,1373.0 L301.4,1372.8 L302.7,1372.7 L304.0,1372.5 L305.3,1372.3 L306.6,1371.9 L307.9,1371.8 L309.2,1371.9 L310.5,1371.6 L311.8,1371.5 L313.1,1371.4 L314.4,1371.1 L315.6,1371.1 L316.9,1371.0 L318.2,1370.4 L319.5,1369.9 L320.8,1369.9 L322.1,1370.3 L323.4,1370.8 L324.7,1371.1 L326.0,1371.4 L327.3,1371.3 L328.6,1371.9 L329.9,1371.1 L331.2,1370.8 L332.5,1369.9 L333.7,1369.2 L335.0,1368.7 L336.3,1368.0 L337.7,1367.6 L339.1,1367.5 L340.5,1367.4 L341.8,1367.2 L343.2,1366.9 L344.6,1366.4 L346.0,1366.0 L347.3,1365.3 L348.6,1364.7 L349.9,1364.3 L351.2,1363.7 L352.5,1362.9 L353.8,1362.2 L355.2,1363.1 L356.7,1363.8 L358.2,1364.4 L359.6,1365.1 L360.8,1364.9 L362.0,1364.5 L363.1,1364.4 L364.3,1364.2 L365.5,1363.1 L366.9,1363.2 L368.3,1364.1 L369.7,1363.9 L371.0,1364.1 L372.4,1364.5 L373.8,1364.6 L375.2,1365.1 L376.5,1364.3 L377.8,1363.5 L379.0,1363.0 L380.3,1362.3 L381.6,1361.5 L382.9,1361.2 L384.3,1362.2 L385.8,1363.2 L387.2,1364.1 L388.7,1365.1 L390.0,1364.9 L391.3,1364.5 L392.6,1364.4 L393.9,1364.3 L395.2,1364.1 L396.5,1364.1 L397.9,1362.7 L399.2,1361.5 L400.6,1360.2 L401.9,1359.3 L403.3,1358.3 L404.5,1359.4 L405.8,1360.4 L407.0,1360.9 L408.2,1361.2 L409.6,1361.0 L411.0,1360.7 L412.4,1360.3 L413.7,1359.8 L415.1,1359.6 L416.5,1359.4 L417.9,1359.2 L419.2,1358.3 L420.5,1357.2 L421.8,1355.7 L423.0,1354.7 L424.3,1353.6 L425.6,1352.5 L426.9,1351.1 L428.2,1349.4 L429.5,1348.3 L430.8,1346.7 L432.1,1345.2 L433.4,1343.7 L434.7,1343.8 L436.0,1343.2 L437.2,1343.4 L438.5,1343.2 L439.8,1342.7 L441.1,1342.7 L442.3,1342.4 L443.5,1342.4 L444.6,1342.2 L445.8,1341.9 L447.0,1340.8 L448.2,1339.3 L449.4,1337.8 L450.6,1336.0 L451.8,1334.0 L453.0,1335.6 L454.2,1336.4 L455.5,1337.8 L456.7,1338.9 L458.1,1339.8 L459.6,1341.3 L461.1,1342.7 L462.5,1344.7 L463.9,1345.5 L465.4,1345.4 L466.9,1345.2 L468.3,1345.7 L469.6,1344.3 L470.9,1342.6 L472.2,1340.8 L473.6,1336.7 L475.1,1332.1 L476.4,1337.9 L477.7,1344.3 L479.0,1350.5 L480.2,1351.5 L481.4,1352.5 L482.7,1353.7 L483.9,1355.4 L485.3,1354.3 L486.8,1353.7 L488.2,1352.5 L489.7,1351.5 L491.1,1351.3 L492.6,1350.7 L494.1,1350.3 L495.5,1349.5 L496.9,1350.3 L498.4,1351.3 L499.9,1351.8 L501.3,1352.5 L502.8,1353.1 L504.2,1353.2 L505.7,1354.6 L507.1,1355.4 L508.4,1355.2 L509.7,1354.9 L511.0,1354.5 L512.3,1354.8 L513.6,1353.9 L514.9,1353.4 L516.2,1353.3 L517.5,1353.2 L518.8,1353.4 L520.1,1353.2 L521.4,1352.8 L522.7,1352.5 L524.2,1351.9 L525.6,1351.4 L527.0,1350.8 L528.5,1350.5 L530.0,1351.3 L531.4,1352.4 L532.8,1353.5 L534.3,1354.4 L535.8,1352.8 L537.2,1351.7 L538.6,1350.1 L540.1,1348.6 L541.3,1348.5 L542.5,1349.2 L543.6,1349.4 L544.8,1349.4 L546.0,1349.5 L547.3,1350.0 L548.6,1350.6 L549.9,1350.7 L551.1,1350.9 L552.4,1351.6 L553.7,1352.5 L555.2,1350.5 L556.6,1348.9 L558.0,1347.1 L559.5,1344.7 L560.8,1343.6 L562.1,1342.2 L563.4,1341.5 L564.7,1340.5 L566.0,1339.4 L567.3,1337.9 L568.6,1337.7 L569.9,1336.6 L571.2,1336.4 L572.5,1336.7 L573.8,1335.9 L575.1,1336.0 L576.4,1335.2 L577.7,1333.6 L579.0,1332.7 L580.2,1331.3 L581.5,1329.6 L582.8,1327.2 L584.0,1329.6 L585.2,1331.9 L586.5,1335.9 L587.7,1338.9 L588.9,1337.5 L590.1,1335.5 L591.3,1334.9 L592.5,1333.0 L593.8,1333.0 L595.1,1332.8 L596.4,1332.1 L597.6,1332.7 L598.8,1333.7 L599.9,1334.0 L601.1,1335.2 L602.3,1336.9 L603.8,1336.6 L605.2,1336.4 L606.6,1335.5 L608.1,1335.0 L609.3,1331.4 L610.5,1328.0 L611.7,1325.2 L612.9,1323.3 L614.2,1322.7 L615.5,1322.1 L616.8,1320.4 L618.0,1325.1 L619.2,1329.2 L620.5,1333.1 L621.7,1336.9 L622.9,1333.5 L624.1,1329.9 L625.3,1326.8 L626.5,1323.3 L627.7,1322.4 L629.0,1322.3 L630.2,1321.9 L631.4,1321.4 L632.7,1317.0 L633.9,1311.8 L635.2,1305.9 L636.7,1295.5 L638.2,1284.5 L639.5,1282.1 L640.7,1279.0 L642.0,1276.8 L643.3,1280.7 L644.6,1283.2 L645.9,1286.5 L647.3,1284.4 L648.6,1281.1 L650.0,1278.7 L651.1,1279.4 L652.2,1279.4 L653.3,1280.0 L654.7,1266.8 L656.1,1256.3 L657.5,1258.1 L658.9,1261.9 L660.2,1262.8 L661.6,1265.3 L663.0,1268.0 L664.2,1267.7 L665.4,1267.9 L666.5,1267.0 L667.7,1265.7 L668.9,1264.1 L670.4,1250.3 L671.8,1236.1 L673.2,1223.3 L674.7,1209.7 L676.0,1208.5 L677.3,1207.1 L678.6,1203.9 L679.9,1209.2 L681.2,1215.6 L682.5,1219.4 L684.0,1213.2 L685.4,1208.5 L686.8,1201.6 L688.3,1196.1 L689.6,1196.1 L690.9,1200.9 L692.2,1203.9 L693.5,1198.1 L694.7,1189.2 L696.0,1182.5 L697.3,1187.6 L698.6,1193.7 L699.9,1198.1 L701.2,1212.7 L702.5,1226.0 L703.8,1240.8 L705.2,1247.4 L706.7,1250.2 L708.1,1253.1 L709.6,1258.2 L710.8,1252.1 L712.0,1244.5 L713.1,1238.2 L714.3,1231.6 L715.5,1225.2 L717.0,1224.2 L718.4,1220.3 L719.8,1218.2 L721.3,1215.5 L722.4,1213.7 L723.6,1213.7 L724.8,1210.9 L725.9,1207.8 L727.2,1211.8 L728.5,1212.5 L729.7,1217.4 L731.0,1221.4 L732.3,1221.1 L733.6,1220.3 L734.9,1217.5 L736.2,1222.6 L737.5,1225.6 L738.8,1233.0 L740.0,1235.9 L741.3,1241.3 L742.6,1242.7 L743.9,1233.5 L745.2,1226.9 L746.5,1217.6 L747.8,1207.7 L749.1,1198.4 L750.4,1190.3 L751.9,1189.0 L753.3,1185.7 L754.8,1179.0 L756.2,1176.7 L757.4,1180.2 L758.5,1186.2 L759.7,1188.2 L760.9,1190.3 L762.1,1180.5 L763.4,1173.3 L764.6,1167.9 L765.9,1157.3 L767.2,1154.6 L768.6,1149.5 L769.9,1161.9 L771.2,1175.2 L772.4,1189.9 L773.7,1202.0 L775.0,1199.0 L776.3,1198.9 L777.7,1197.3 L779.0,1196.0 L780.3,1194.2 L781.6,1181.7 L782.9,1170.4 L784.2,1159.3 L785.5,1156.0 L786.7,1154.8 L788.0,1151.5 L789.3,1141.9 L790.6,1130.4 L791.9,1120.4 L793.2,1117.5 L794.5,1114.8 L795.8,1110.7 L797.3,1101.9 L798.9,1091.3 L800.2,1089.3 L801.5,1088.4 L802.8,1083.6 L804.0,1089.0 L805.1,1092.7 L806.3,1092.7 L807.5,1097.1 L809.0,1109.8 L810.6,1128.2 L812.5,1205.8 L813.8,1212.6 L815.1,1219.6 L816.4,1229.1 L817.8,1235.9 L819.1,1240.8 L820.4,1232.8 L821.7,1223.4 L823.0,1217.5 L824.5,1227.0 L826.1,1236.9 L827.2,1225.7 L828.4,1217.5 L829.6,1213.1 L830.7,1205.8 L832.0,1207.6 L833.2,1211.4 L834.5,1214.2 L835.8,1217.5 L837.2,1220.2 L838.7,1222.3 L840.1,1223.7 L841.6,1225.2 L842.9,1224.0 L844.2,1221.2 L845.5,1222.5 L846.8,1223.2 L848.1,1223.3 L849.4,1223.3 L850.5,1226.5 L851.7,1229.5 L852.9,1232.1 L854.0,1235.0 L855.3,1240.9 L856.5,1246.5 L857.8,1254.4 L859.1,1260.2 L860.4,1262.7 L861.7,1263.7 L863.0,1264.1 L864.5,1262.0 L865.9,1258.0 L867.3,1254.3 L868.8,1250.5 L870.2,1247.6 L871.6,1245.6 L873.0,1245.3 L874.4,1243.1 L875.8,1238.8 L877.1,1239.1 L878.4,1238.1 L879.8,1240.4 L881.1,1242.9 L882.4,1244.7 L883.9,1244.0 L885.3,1243.6 L886.8,1243.0 L888.2,1242.7 L889.4,1243.5 L890.5,1242.7 L891.7,1244.4 L892.9,1246.6 L894.1,1242.1 L895.4,1239.4 L896.6,1235.5 L897.9,1233.8 L899.1,1231.1 L900.4,1229.8 L901.7,1228.0 L903.1,1223.9 L904.4,1219.8 L905.7,1215.5 L907.2,1211.7 L908.6,1205.3 L910.0,1201.3 L911.5,1194.2 L913.0,1191.5 L914.4,1187.7 L915.8,1180.9 L917.3,1174.8 L918.6,1173.5 L919.9,1172.5 L921.2,1165.3 L922.5,1164.1 L923.8,1165.5 L925.1,1163.1 L926.5,1165.2 L928.0,1172.2 L929.5,1177.4 L930.9,1182.5 L932.3,1181.2 L933.7,1176.3 L935.1,1172.5 L936.5,1167.8 L937.9,1163.1 L939.0,1164.5 L940.2,1164.5 L941.4,1169.7 L942.5,1172.8 L943.7,1163.1 L944.9,1147.8 L946.0,1135.8 L947.2,1123.9 L948.4,1112.7 L949.7,1111.0 L951.0,1106.2 L952.3,1101.0 L953.6,1092.5 L955.0,1087.4 L956.5,1130.0 L958.1,1167.0 L959.5,1167.6 L961.0,1170.1 L962.5,1173.1 L963.9,1178.7 L965.5,1170.5 L967.0,1161.2 L968.2,1167.6 L969.4,1170.6 L970.5,1173.3 L971.7,1178.7 L973.0,1185.7 L974.2,1191.2 L975.5,1198.1 L976.8,1200.2 L978.1,1202.5 L979.4,1204.1 L980.7,1207.8 L982.0,1209.9 L983.3,1211.7 L984.8,1204.6 L986.2,1194.2 L987.6,1186.6 L989.1,1178.7 L990.3,1175.9 L991.5,1174.1 L992.6,1169.0 L993.8,1167.3 L995.0,1163.1 L996.5,1162.5 L997.9,1164.1 L999.3,1163.7 L1000.8,1165.1 L1002.2,1155.2 L1003.7,1146.7 L1005.1,1136.7 L1006.6,1128.2 L1008.0,1116.2 L1009.5,1105.1 L1011.0,1096.6 L1012.4,1089.4 L1013.9,1093.0 L1015.3,1093.9 L1016.8,1093.5 L1018.2,1093.3 L1019.5,1101.4 L1020.8,1104.2 L1022.1,1108.8 L1023.4,1097.2 L1024.7,1085.1 L1026.0,1070.0 L1027.3,1068.9 L1028.6,1062.5 L1029.9,1056.4 L1031.2,1062.1 L1032.5,1064.6 L1033.8,1070.0 L1035.1,1064.4 L1036.4,1056.6 L1037.7,1048.6 L1039.0,1057.8 L1040.2,1066.2 L1041.5,1073.9 L1042.8,1069.8 L1044.0,1066.3 L1045.3,1065.8 L1046.6,1066.1 L1047.9,1089.7 L1049.3,1114.6 L1050.8,1112.4 L1052.2,1111.9 L1053.6,1112.6 L1055.1,1112.7 L1056.4,1103.0 L1057.7,1086.0 L1059.0,1075.8 L1060.5,1095.2 L1062.1,1118.5 L1063.4,1101.1 L1064.7,1086.2 L1066.0,1073.9 L1067.3,1079.4 L1068.6,1079.7 L1069.9,1081.6 L1071.2,1108.2 L1072.6,1137.9 L1073.9,1132.9 L1075.2,1129.5 L1076.5,1124.3 L1077.8,1131.3 L1079.1,1138.7 L1080.4,1141.8 L1081.9,1143.5 L1083.3,1145.8 L1084.8,1145.6 L1086.2,1143.7 L1087.7,1140.6 L1089.1,1137.5 L1090.5,1135.6 L1092.0,1128.2 L1093.3,1117.2 L1094.6,1111.9 L1095.9,1104.9 L1097.5,1100.2 L1099.0,1095.2 L1100.2,1103.9 L1101.3,1110.8 L1102.4,1119.0 L1103.6,1128.2 L1104.9,1126.3 L1106.2,1127.0 L1107.6,1128.5 L1108.9,1126.5 L1110.2,1126.3 L1111.5,1133.1 L1112.8,1143.4 L1114.0,1154.0 L1115.3,1163.1 L1116.8,1164.2 L1118.2,1166.3 L1119.6,1168.6 L1121.1,1167.0 L1122.3,1165.7 L1123.4,1162.3 L1124.6,1157.9 L1125.8,1159.3 L1127.0,1162.6 L1128.3,1166.8 L1129.5,1170.1 L1130.8,1170.9 L1132.1,1183.6 L1133.4,1195.0 L1134.7,1209.7 L1136.2,1205.7 L1137.6,1206.1 L1139.0,1204.9 L1140.5,1205.8 L1141.7,1203.5 L1142.9,1198.0 L1144.0,1196.0 L1145.2,1193.4 L1146.4,1186.4 L1147.9,1184.9 L1149.3,1177.7 L1150.8,1170.2 L1152.2,1167.0 L1153.3,1165.4 L1154.5,1165.6 L1155.7,1165.3 L1156.8,1163.1 L1158.1,1169.7 L1159.3,1176.1 L1160.6,1179.8 L1161.9,1186.4 L1163.2,1181.3 L1164.5,1176.6 L1165.8,1170.9 L1167.0,1175.3 L1168.3,1181.5 L1169.5,1186.6 L1170.8,1194.2 L1172.1,1195.8 L1173.4,1196.1 L1174.8,1199.5 L1176.1,1201.5 L1177.4,1205.8 L1178.7,1201.4 L1180.0,1196.9 L1181.4,1191.9 L1182.7,1188.5 L1184.0,1184.5 L1185.3,1189.1 L1186.5,1196.5 L1187.8,1202.4 L1189.1,1205.8 L1190.5,1207.1 L1192.0,1207.3 L1193.5,1207.5 L1194.9,1207.8 L1196.4,1206.2 L1197.8,1205.6 L1199.2,1205.5 L1200.7,1203.9 L1202.0,1195.8 L1203.2,1189.0 L1204.5,1182.0 L1205.7,1174.8 L1207.0,1170.6 L1208.3,1168.4 L1209.7,1163.0 L1211.0,1163.6 L1212.3,1163.1 L1213.5,1163.4 L1214.7,1160.3 L1215.8,1159.6 L1217.0,1160.9 L1218.2,1159.3 L1219.3,1158.9 L1220.5,1160.4 L1221.7,1157.6 L1222.8,1161.2 L1224.2,1156.4 L1225.7,1147.9 L1227.1,1143.7 L1228.3,1149.8 L1229.4,1154.9 L1230.6,1160.1 L1231.8,1167.0 L1233.2,1170.0 L1234.7,1175.2 L1236.1,1177.4 L1237.6,1178.7 L1238.9,1178.4 L1240.2,1176.8 L1241.4,1177.8 L1242.7,1176.8 L1244.0,1177.8 L1245.3,1178.7 L1246.6,1180.8 L1247.9,1183.2 L1249.2,1181.2 L1250.5,1180.0 L1251.8,1178.8 L1253.1,1176.7 L1254.4,1182.0 L1255.7,1186.2 L1257.0,1187.8 L1258.3,1187.4 L1259.6,1188.2 L1260.9,1190.3 L1262.4,1192.4 L1263.8,1189.6 L1265.2,1191.5 L1266.7,1188.4 L1268.2,1194.9 L1269.6,1198.8 L1271.0,1203.9 L1272.5,1205.8 L1273.8,1214.7 L1275.1,1222.7 L1276.4,1229.1 L1277.7,1225.6 L1279.0,1225.0 L1280.3,1224.4 L1281.6,1221.9 L1282.9,1222.1 L1284.2,1221.4 L1285.5,1220.8 L1286.8,1220.6 L1288.1,1218.1 L1289.3,1220.1 L1290.6,1222.6 L1291.9,1223.3 L1293.2,1221.2 L1294.5,1219.2 L1295.8,1218.5 L1297.1,1216.9 L1298.4,1217.1 L1299.7,1215.5 L1301.2,1219.0 L1302.6,1222.9 L1304.0,1224.2 L1305.5,1225.2 L1306.9,1221.3 L1308.3,1221.6 L1309.7,1222.5 L1311.0,1221.5 L1312.4,1223.4 L1313.8,1222.8 L1315.2,1221.4 L1316.5,1230.6 L1317.8,1239.4 L1319.1,1244.7 L1320.4,1250.5 L1321.7,1255.7 L1323.0,1262.1 L1324.3,1262.1 L1325.6,1261.5 L1326.8,1261.5 L1328.1,1262.3 L1329.4,1261.8 L1330.7,1260.2 L1331.9,1257.2 L1333.1,1256.3 L1334.2,1256.4 L1335.4,1254.4 L1336.8,1257.3 L1338.2,1258.8 L1339.6,1260.6 L1341.0,1264.1 L1342.4,1266.0 L1343.7,1262.4 L1345.0,1258.7 L1346.3,1256.3 L1347.6,1252.7 L1348.9,1248.9 L1350.2,1244.7 L1351.5,1248.2 L1352.7,1253.5 L1354.0,1260.2 L1355.2,1253.0 L1356.4,1249.1 L1357.5,1242.7 L1358.7,1236.7 L1359.9,1231.1 L1361.4,1227.4 L1362.8,1223.8 L1364.2,1219.9 L1365.7,1219.4 L1367.2,1217.3 L1368.6,1216.3 L1370.0,1215.2 L1371.5,1215.5 L1372.8,1208.8 L1374.0,1204.1 L1375.3,1199.7 L1376.6,1198.1 L1377.8,1200.0 L1378.9,1200.8 L1380.0,1201.9 L1381.2,1205.8 L1382.7,1201.5 L1384.1,1196.3 L1385.5,1191.1 L1387.0,1186.4 L1388.2,1184.0 L1389.4,1178.1 L1390.5,1173.0 L1391.7,1168.9 L1392.9,1163.1 L1394.2,1158.0 L1395.4,1150.7 L1396.7,1145.2 L1397.9,1139.8 L1399.1,1148.9 L1400.3,1158.6 L1401.5,1162.9 L1402.7,1166.3 L1403.9,1170.0 L1405.1,1176.7 L1406.2,1183.5 L1407.3,1189.4 L1408.5,1195.2 L1409.8,1190.2 L1411.0,1184.0 L1412.3,1176.6 L1413.6,1170.0 L1414.9,1173.3 L1416.2,1181.5 L1417.5,1191.3 L1419.0,1188.9 L1420.4,1185.5 L1421.8,1185.1 L1423.3,1181.6 L1424.8,1182.2 L1426.2,1183.7 L1427.6,1183.8 L1429.1,1185.5 L1430.5,1176.5 L1432.0,1166.6 L1433.5,1162.6 L1434.9,1158.3 L1436.1,1163.7 L1437.3,1167.9 L1438.4,1173.0 L1439.6,1178.8 L1440.8,1181.6 L1442.2,1186.1 L1443.7,1188.7 L1445.1,1196.3 L1446.6,1201.0 L1447.9,1201.1 L1449.2,1202.3 L1450.4,1203.4 L1451.7,1204.6 L1453.0,1203.1 L1454.3,1203.0 L1455.5,1205.7 L1456.7,1207.3 L1457.8,1208.8 L1459.0,1209.1 L1460.2,1210.7 L1461.7,1210.5 L1463.1,1206.1 L1464.5,1201.5 L1466.0,1197.1 L1467.3,1194.2 L1468.6,1196.0 L1469.9,1198.8 L1471.2,1199.2 L1472.5,1199.1 L1473.8,1201.0 L1475.2,1199.8 L1476.7,1193.1 L1478.1,1190.1 L1479.6,1191.3 L1480.8,1189.2 L1482.1,1186.6 L1483.3,1184.1 L1484.6,1185.5 L1486.0,1183.1 L1487.3,1182.3 L1488.7,1182.9 L1490.1,1181.6 L1491.5,1173.4 L1492.9,1163.1 L1494.3,1152.5 L1495.5,1156.5 L1496.7,1155.8 L1497.8,1159.8 L1499.0,1164.1 L1500.5,1168.7 L1501.9,1170.0 L1503.3,1170.0 L1504.8,1171.9 L1506.1,1181.2 L1507.4,1189.2 L1508.7,1197.1 L1510.0,1213.0 L1511.3,1230.4 L1512.6,1243.7 L1514.0,1249.7 L1515.5,1258.8 L1517.0,1266.7 L1518.4,1274.8 L1519.7,1272.4 L1521.0,1271.0 L1522.3,1270.1 L1523.6,1269.4 L1524.9,1270.1 L1526.2,1269.0 L1527.7,1268.3 L1529.1,1266.7 L1530.5,1265.6 L1532.0,1265.1 L1533.5,1265.3 L1534.9,1266.1 L1536.3,1264.5 L1537.8,1265.1 L1539.0,1260.2 L1540.2,1253.8 L1541.3,1249.9 L1542.5,1243.7 L1543.9,1247.9 L1545.3,1253.1 L1546.7,1259.3 L1548.0,1258.1 L1549.3,1259.0 L1550.7,1258.8 L1552.0,1257.2 L1553.3,1257.3 L1554.6,1257.0 L1555.9,1255.9 L1557.2,1255.4 L1558.5,1260.5 L1559.8,1264.6 L1561.0,1268.2 L1562.3,1272.8 L1563.6,1270.2 L1564.9,1269.6 L1566.3,1269.8 L1567.6,1267.4 L1568.9,1265.1 L1570.2,1264.0 L1571.5,1263.6 L1572.8,1262.6 L1574.0,1262.4 L1575.3,1261.1 L1576.6,1261.2 L1577.8,1262.6 L1579.0,1264.0 L1580.1,1264.2 L1581.3,1265.9 L1582.5,1265.1 L1584.0,1261.9 L1585.4,1259.4 L1586.8,1258.3 L1588.3,1255.4 L1589.6,1250.6 L1590.9,1246.9 L1592.2,1243.7 L1593.7,1245.3 L1595.1,1243.8 L1596.5,1243.6 L1598.0,1243.7 L1599.4,1243.5 L1600.8,1243.0 L1602.2,1241.8 L1603.6,1240.7 L1605.0,1237.9 L1606.3,1239.8 L1607.6,1241.2 L1609.0,1241.5 L1610.3,1244.7 L1611.6,1245.7 L1613.0,1245.1 L1614.5,1246.0 L1616.0,1246.6 L1617.4,1247.6 L1618.9,1244.0 L1620.3,1241.4 L1621.8,1238.0 L1623.2,1236.0 L1624.7,1235.8 L1626.1,1234.0 L1627.5,1232.0 L1629.0,1232.1 L1630.3,1238.4 L1631.6,1241.7 L1632.9,1247.6 L1634.4,1247.6 L1635.8,1247.9 L1637.2,1247.0 L1638.7,1245.7 L1640.0,1243.9 L1641.3,1241.9 L1642.6,1240.4 L1643.9,1239.5 L1645.2,1238.5 L1646.5,1239.8 L1648.0,1239.8 L1649.4,1240.4 L1650.8,1241.7 L1652.3,1243.7 L1653.5,1241.2 L1654.7,1238.1 L1655.8,1237.2 L1657.0,1236.5 L1658.2,1236.0 L1659.7,1240.2 L1661.1,1241.6 L1662.5,1246.3 L1664.0,1249.5 L1665.5,1255.9 L1666.9,1259.5 L1668.3,1261.2 L1669.8,1265.1 L1671.1,1264.3 L1672.4,1263.6 L1673.7,1262.9 L1675.0,1261.3 L1676.3,1258.5 L1677.6,1257.3 L1678.9,1256.1 L1680.2,1254.5 L1681.4,1253.7 L1682.7,1252.6 L1684.0,1249.4 L1685.3,1247.6 L1686.8,1247.9 L1688.2,1248.9 L1689.6,1252.1 L1691.1,1253.4 L1692.3,1253.3 L1693.5,1250.2 L1694.6,1250.9 L1695.8,1249.6 L1697.0,1249.5 L1698.5,1242.9 L1699.9,1237.6 L1701.3,1233.5 L1702.8,1228.2 L1704.1,1234.2 L1705.4,1238.9 L1706.7,1243.7 L1708.0,1241.4 L1709.3,1238.5 L1710.6,1236.0 L1712.2,1217.3 L1713.7,1199.1 L1715.0,1202.3 L1716.4,1206.5 L1717.8,1207.8 L1719.1,1208.8 L1720.3,1214.9 L1721.6,1222.2 L1722.8,1228.5 L1724.1,1236.0 L1725.4,1237.6 L1726.7,1238.2 L1728.0,1237.6 L1729.3,1240.5 L1730.6,1242.7 L1731.9,1243.7 L1733.4,1241.8 L1734.8,1238.0 L1736.2,1237.0 L1737.7,1236.0 L1739.0,1230.2 L1740.3,1222.1 L1741.6,1216.6 L1742.9,1223.9 L1744.2,1232.2 L1745.5,1236.0 L1746.8,1236.2 L1748.1,1237.0 L1749.4,1235.6 L1750.7,1235.9 L1752.0,1235.1 L1753.3,1236.0 L1754.6,1236.3 L1755.9,1236.9 L1757.2,1236.0 L1758.4,1239.2 L1759.7,1238.7 L1761.0,1237.9 L1762.2,1233.9 L1763.3,1231.2 L1764.5,1228.5 L1765.7,1226.3 L1767.0,1230.8 L1768.2,1234.6 L1769.5,1235.2 L1770.7,1237.9 L1771.9,1235.9 L1773.1,1235.2 L1774.2,1233.6 L1775.4,1233.6 L1776.6,1232.1 L1777.9,1235.4 L1779.2,1234.9 L1780.4,1237.2 L1781.7,1239.1 L1783.0,1238.9 L1784.3,1237.9 L1785.6,1238.1 L1786.9,1239.5 L1788.2,1242.6 L1789.5,1241.8 L1790.8,1242.4 L1792.1,1241.8 L1793.4,1243.7 L1794.7,1244.8 L1795.9,1245.7 L1797.2,1247.5 L1798.5,1248.8 L1799.8,1251.5 L1801.0,1248.7 L1802.2,1245.6 L1803.3,1243.2 L1804.5,1240.7 L1805.7,1239.8 L1807.0,1239.6 L1808.3,1239.2 L1809.6,1238.5 L1810.8,1237.8 L1812.1,1235.6 L1813.4,1236.0 L1814.6,1235.1 L1815.8,1233.7 L1816.9,1231.1 L1818.1,1230.7 L1819.3,1230.1 L1820.8,1233.0 L1822.2,1236.3 L1823.6,1238.7 L1825.1,1241.8 L1826.3,1242.6 L1827.6,1241.1 L1828.8,1240.6 L1830.1,1239.8 L1831.1,1229.2 L1832.1,1214.6 L1833.4,1225.5 L1834.8,1236.0 L1836.1,1236.6 L1837.4,1238.0 L1838.7,1236.9 L1839.9,1238.0 L1841.2,1237.9 L1842.5,1237.9 L1843.8,1238.7 L1845.1,1237.4 L1846.4,1237.8 L1847.7,1236.8 L1849.0,1235.4 L1850.3,1234.0 L1851.7,1232.3 L1853.1,1232.1 L1854.5,1232.5 L1855.8,1234.5 L1857.2,1235.7 L1858.6,1237.0 L1860.0,1236.0 L1861.3,1227.8 L1862.6,1221.1 L1863.9,1214.6 L1865.4,1214.2 L1866.8,1216.8 L1868.2,1217.0 L1869.7,1218.5 L1871.2,1213.6 L1872.6,1210.5 L1874.0,1207.6 L1875.5,1204.9 L1876.9,1223.6 L1878.3,1243.7 L1879.5,1249.4 L1880.8,1252.5 L1882.0,1256.1 L1883.3,1259.3 L1884.6,1258.6 L1885.9,1260.2 L1887.3,1261.8 L1888.6,1260.8 L1889.9,1261.2 L1891.5,1259.1 L1893.0,1255.4 L1894.5,1256.8 L1895.9,1259.1 L1897.3,1261.3 L1898.8,1261.2 L1900.1,1259.7 L1901.4,1260.9 L1902.7,1259.7 L1904.0,1259.1 L1905.3,1257.8 L1906.6,1259.3 L1907.9,1258.0 L1909.2,1258.2 L1910.5,1257.8 L1911.8,1257.6 L1913.1,1256.2 L1914.4,1255.4 L1915.7,1254.7 L1917.0,1254.5 L1918.2,1251.9 L1919.5,1251.5 L1920.8,1250.0 L1922.1,1249.5 L1923.3,1250.6 L1924.5,1252.1 L1925.6,1253.5 L1926.8,1255.7 L1928.0,1257.3 L1929.2,1254.0 L1930.3,1249.8 L1931.4,1246.7 L1932.6,1245.7 L1934.0,1246.0 L1935.4,1247.1 L1936.8,1251.5 L1938.2,1253.4 L1939.6,1255.4 L1941.0,1254.6 L1942.5,1254.2 L1944.0,1252.5 L1945.4,1251.5 L1946.9,1249.0 L1948.3,1249.2 L1949.8,1249.8 L1951.2,1247.6 L1952.5,1248.9 L1953.8,1251.4 L1955.1,1248.6 L1956.4,1248.6 L1957.7,1250.5 L1959.0,1251.5 L1960.3,1249.4 L1961.6,1247.3 L1962.9,1245.6 L1964.2,1245.2 L1965.5,1242.9 L1966.8,1239.8 L1968.1,1239.0 L1969.4,1237.0 L1970.7,1238.2 L1971.9,1235.9 L1973.2,1235.3 L1974.5,1234.0 L1975.7,1231.3 L1976.9,1229.9 L1978.0,1226.5 L1979.2,1226.3 L1980.4,1224.3 L1981.7,1219.3 L1982.9,1213.8 L1984.2,1212.7 L1985.6,1204.2 L1987.0,1193.3 L1988.2,1195.5 L1989.5,1199.0 L1990.8,1202.4 L1992.0,1204.9 L1993.5,1202.3 L1994.9,1205.6 L1996.3,1206.0 L1997.8,1208.8 L1999.2,1203.0 L2000.7,1200.6 L2002.1,1199.0 L2003.6,1197.1 L2004.8,1197.1 L2006.0,1198.6 L2007.1,1203.1 L2008.3,1203.7 L2009.5,1206.8 L2011.0,1203.0 L2012.4,1197.0 L2013.8,1195.0 L2015.3,1193.3 L2016.8,1192.0 L2018.2,1190.1 L2019.6,1189.4 L2021.1,1183.6 L2022.5,1182.2 L2024.0,1183.9 L2025.5,1188.4 L2026.9,1193.8 L2028.3,1197.1 L2029.8,1201.3 L2031.2,1201.2 L2032.7,1203.8 L2034.1,1206.0 L2035.6,1207.1 L2036.8,1204.9 L2038.0,1202.8 L2039.1,1200.9 L2040.3,1200.0 L2041.5,1199.4 L2042.8,1191.0 L2044.1,1186.7 L2045.4,1183.9 L2046.7,1179.9 L2047.9,1177.6 L2049.2,1180.0 L2050.5,1187.6 L2051.8,1198.0 L2053.1,1207.1 L2054.6,1208.3 L2056.0,1211.4 L2057.4,1212.0 L2058.9,1214.9 L2060.2,1217.9 L2061.5,1220.6 L2062.8,1222.7 L2064.0,1212.3 L2065.2,1203.7 L2066.3,1196.1 L2067.5,1187.7 L2069.1,1184.3 L2070.6,1180.0 L2072.1,1179.8 L2073.5,1177.2 L2074.9,1179.0 L2076.4,1176.1 L2077.8,1177.8 L2079.3,1179.9 L2080.8,1182.0 L2082.2,1187.7 L2083.5,1192.3 L2084.8,1196.8 L2086.1,1201.3 L2087.6,1201.3 L2089.0,1203.5 L2090.4,1205.9 L2091.9,1205.2 L2093.2,1206.8 L2094.5,1206.6 L2095.8,1205.9 L2097.1,1206.8 L2098.4,1205.8 L2099.7,1205.2 L2101.0,1200.9 L2102.3,1194.4 L2103.6,1187.7 L2105.1,1183.4 L2106.5,1179.3 L2107.9,1175.7 L2109.4,1172.2 L2110.6,1168.0 L2111.8,1161.6 L2112.9,1156.7 L2114.1,1150.9 L2115.3,1148.5 L2116.6,1147.3 L2117.8,1143.5 L2119.1,1139.2 L2120.4,1143.0 L2121.7,1145.8 L2123.0,1148.9 L2124.3,1142.4 L2125.6,1130.7 L2126.9,1121.7 L2128.3,1119.3 L2129.8,1120.2 L2131.2,1124.4 L2132.7,1123.7 L2134.1,1113.7 L2135.6,1106.1 L2137.1,1103.4 L2138.5,1098.4 L2139.9,1093.0 L2141.4,1089.7 L2142.9,1085.0 L2144.3,1079.0 L2145.5,1074.0 L2146.7,1071.8 L2147.8,1068.0 L2149.0,1066.6 L2150.2,1061.6 L2151.6,1069.4 L2153.1,1073.7 L2154.6,1082.5 L2156.0,1090.7 L2157.3,1091.1 L2158.6,1099.2 L2159.9,1102.3 L2161.3,1095.3 L2162.8,1086.9 L2164.2,1081.9 L2165.7,1077.1 L2167.1,1074.4 L2168.6,1070.9 L2170.1,1069.0 L2171.5,1065.5 L2172.8,1073.1 L2174.1,1080.1 L2175.4,1090.7 L2176.7,1086.3 L2178.0,1093.6 L2179.3,1094.6 L2180.9,1076.9 L2182.4,1055.7 L2183.6,1065.8 L2184.7,1072.4 L2185.8,1078.4 L2187.0,1082.9 L2188.3,1099.5 L2189.6,1115.9 L2190.9,1129.5 L2192.3,1134.4 L2193.8,1133.6 L2195.2,1137.6 L2196.7,1139.2 L2197.9,1134.9 L2199.1,1133.0 L2200.2,1132.8 L2201.4,1130.6 L2202.6,1129.5 L2204.1,1124.0 L2205.5,1119.7 L2206.9,1112.9 L2208.4,1112.0 L2209.7,1120.6 L2211.0,1131.9 L2212.3,1139.2 L2213.8,1136.8 L2215.2,1131.8 L2216.7,1129.0 L2218.1,1129.5 L2219.4,1129.3 L2220.7,1126.8 L2222.0,1124.7 L2223.3,1125.1 L2224.6,1123.9 L2225.9,1127.6 L2227.3,1123.2 L2228.8,1118.3 L2230.2,1115.1 L2231.7,1114.0 L2233.0,1104.9 L2234.3,1097.8 L2235.6,1090.7 L2236.9,1047.3 L2238.3,1009.2 L2239.6,1006.2 L2240.8,1006.3 L2242.1,1005.8 L2243.3,1005.3 L2244.6,992.9 L2245.9,976.8 L2247.2,972.3 L2248.5,978.4 L2249.8,978.0 L2251.0,975.5 L2252.3,978.1 L2253.5,976.4 L2254.6,972.8 L2255.8,970.2 L2256.9,968.4 L2258.3,975.4 L2259.8,977.4 L2261.2,981.0 L2262.7,980.0 L2264.0,989.1 L2265.2,993.2 L2266.5,999.8 L2267.8,1013.0 L2269.0,1007.9 L2270.1,1005.5 L2271.2,1000.3 L2272.4,991.7 L2273.6,998.4 L2274.8,1001.3 L2275.9,1004.4 L2277.1,1010.4 L2278.3,1013.0 L2279.6,1011.4 L2280.8,1011.8 L2282.1,1005.7 L2283.3,1003.3 L2284.5,1004.0 L2285.7,1007.7 L2286.8,1016.1 L2288.0,1013.0 L2289.4,1017.8 L2290.9,1017.9 L2292.4,1019.8 L2293.8,1020.8 L2295.1,1042.4 L2296.4,1060.9 L2297.7,1082.9 L2299.0,1082.3 L2300.3,1087.8 L2301.6,1090.7 L2303.1,1084.2 L2304.5,1078.2 L2305.9,1076.2 L2307.4,1067.4 L2308.6,1061.3 L2309.7,1055.1 L2310.8,1045.8 L2312.0,1042.2 L2313.3,1039.8 L2314.6,1041.9 L2315.8,1041.3 L2317.1,1038.3 L2318.2,1035.7 L2319.4,1036.5 L2320.5,1031.4 L2321.7,1026.6 L2323.0,1034.0 L2324.2,1043.4 L2325.5,1052.9 L2326.8,1057.7 L2328.0,1050.7 L2329.2,1047.0 L2330.3,1042.8 L2331.5,1040.2 L2332.8,1045.2 L2334.0,1053.3 L2335.3,1059.6 L2336.6,1095.7 L2337.9,1122.9 L2339.2,1152.8 L2340.6,1148.0 L2342.0,1140.6 L2343.4,1136.0 L2344.8,1130.7 L2346.2,1123.7 L2347.6,1124.2 L2349.1,1128.8 L2350.6,1130.7 L2352.0,1135.3 L2353.2,1138.0 L2354.4,1138.1 L2355.5,1137.3 L2356.7,1132.3 L2357.9,1127.6 L2359.2,1125.4 L2360.4,1122.9 L2361.7,1120.6 L2362.9,1115.9 L2364.1,1120.8 L2365.2,1124.0 L2366.4,1131.5 L2367.6,1137.3 L2368.9,1133.5 L2370.2,1132.9 L2371.4,1136.3 L2372.7,1134.6 L2374.0,1132.9 L2375.3,1131.4 L2376.6,1133.9 L2377.9,1137.8 L2379.2,1141.1 L2380.5,1138.5 L2381.8,1134.2 L2383.1,1132.7 L2384.4,1132.8 L2385.7,1127.9 L2387.0,1125.6 L2388.3,1125.6 L2389.6,1125.3 L2390.8,1124.6 L2392.1,1125.0 L2393.4,1123.8 L2394.7,1121.7 L2396.0,1109.9 L2397.3,1101.8 L2398.6,1090.7 L2399.9,1085.9 L2401.2,1084.6 L2402.5,1083.2 L2403.8,1085.3 L2405.1,1087.8 L2406.4,1084.9 L2407.8,1092.2 L2409.3,1097.2 L2410.8,1105.3 L2412.2,1108.2 L2413.6,1110.7 L2415.1,1113.4 L2416.6,1118.0 L2418.0,1115.9 L2419.3,1114.0 L2420.6,1112.5 L2421.9,1110.2 L2423.2,1106.3 L2424.5,1103.9 L2425.8,1102.3 L2427.1,1095.0 L2428.4,1082.8 L2429.7,1073.2 L2431.1,1067.1 L2432.6,1063.0 L2434.1,1058.3 L2435.5,1053.8 L2436.9,1055.8 L2438.4,1061.8 L2439.9,1075.0 L2441.3,1081.0 L2442.8,1071.4 L2444.2,1071.5 L2445.7,1066.7 L2447.1,1061.6 L2448.4,1056.0 L2449.7,1053.8 L2451.0,1051.9 L2452.2,1058.1 L2453.3,1061.9 L2454.5,1070.3 L2455.7,1073.2 L2456.9,1053.7 L2458.2,1030.5 L2459.4,1006.0 L2460.7,978.1 L2462.0,975.7 L2463.3,973.4 L2464.6,964.5 L2465.9,976.2 L2467.1,981.2 L2468.4,981.6 L2469.7,991.7 L2470.8,986.0 L2472.0,980.8 L2473.2,973.8 L2474.3,968.4 L2475.6,951.3 L2476.9,931.0 L2478.2,916.0 L2479.6,912.9 L2481.1,913.6 L2482.6,905.4 L2484.0,904.3 L2485.0,875.6 L2486.0,850.0 L2486.0,831.5 L2487.4,827.0 L2488.7,824.8 L2490.1,823.7 L2491.4,806.4 L2492.6,796.3 L2493.9,784.9 L2495.2,771.9 L2496.5,755.2 L2497.8,751.9 L2499.1,780.0 L2500.4,803.4 L2501.7,831.5 L2503.0,815.0 L2504.3,790.4 L2505.6,769.4 L2506.8,768.0 L2507.9,766.1 L2509.0,760.9 L2510.2,753.9 L2511.5,780.1 L2512.8,803.5 L2514.0,834.1 L2515.3,858.7 L2516.6,870.0 L2517.9,875.4 L2519.2,885.8 L2520.6,887.0 L2522.1,886.3 L2523.6,883.1 L2525.0,870.3 L2526.2,861.7 L2527.3,857.8 L2528.5,860.6 L2529.7,850.9 L2531.0,831.2 L2532.2,802.5 L2533.5,784.9 L2534.8,778.9 L2536.1,774.2 L2537.4,771.3 L2538.7,786.0 L2540.0,800.6 L2541.3,823.7 L2542.6,826.8 L2543.9,832.1 L2545.1,845.5 L2546.4,858.7 L2547.7,840.7 L2548.9,822.9 L2550.2,809.4 L2551.4,804.3 L2552.8,816.8 L2554.1,820.5 L2555.5,822.9 L2556.8,827.6 L2558.1,815.6 L2559.4,813.6 L2560.7,808.2 L2562.0,824.0 L2563.2,830.8 L2564.5,843.1 L2565.8,850.9 L2567.1,834.8 L2568.3,829.9 L2569.6,812.1 L2570.9,832.8 L2572.2,855.8 L2573.5,885.8 L2574.8,924.4 L2576.2,960.0 L2576.2,950.9 L2577.4,959.1 L2578.7,972.7 L2579.9,982.0 L2581.2,979.5 L2582.4,982.8 L2583.7,974.9 L2584.9,974.2 L2586.2,971.3 L2587.4,975.7 L2588.7,977.7 L2590.0,980.0 L2591.2,979.9 L2592.3,979.7 L2593.5,968.1 L2594.7,962.6 L2595.8,965.6 L2597.0,961.0 L2598.2,955.6 L2599.3,952.9 L2600.6,970.5 L2601.9,985.4 L2603.2,1003.3 L2604.4,1005.8 L2605.7,1004.3 L2606.9,1005.4 L2608.2,1009.2 L2609.5,1016.6 L2610.8,1026.9 L2612.0,1034.8 L2613.3,1044.1 L2614.6,1040.9 L2615.9,1042.7 L2617.2,1042.2 L2618.5,1054.9 L2619.7,1063.6 L2621.0,1079.0 L2622.2,1078.9 L2623.3,1073.7 L2624.5,1076.1 L2625.7,1073.2 L2627.0,1064.3 L2628.3,1050.5 L2629.6,1040.2 L2630.8,1042.9 L2631.9,1043.8 L2633.0,1045.2 L2634.2,1053.8 L2635.5,1045.3 L2636.8,1038.3 L2638.0,1029.0 L2639.3,1020.8 L2640.6,1026.8 L2641.8,1034.0 L2643.1,1041.7 L2644.3,1051.9 L2645.5,1050.6 L2646.7,1049.1 L2647.8,1045.4 L2649.0,1046.0 L2650.2,1055.8 L2651.3,1063.5 L2652.5,1066.9 L2653.7,1075.2 L2655.0,1080.7 L2656.2,1095.3 L2657.5,1106.2 L2658.8,1101.3 L2660.1,1092.7 L2661.3,1086.8 L2662.6,1082.9 L2663.8,1089.0 L2665.1,1090.2 L2666.3,1090.2 L2667.6,1092.6 L2669.0,1093.0 L2670.3,1089.8 L2671.7,1084.7 L2673.1,1082.9 L2674.6,1066.8 L2676.2,1046.0 L2677.6,1044.4 L2679.1,1045.5 L2680.6,1040.9 L2682.0,1040.2 L2683.2,1036.9 L2684.5,1034.7 L2685.8,1032.6 L2687.0,1026.6 L2688.3,1030.4 L2689.6,1038.9 L2690.9,1042.2 L2692.1,1036.5 L2693.2,1034.1 L2694.4,1038.3 L2695.6,1036.3 L2697.1,984.5 L2698.7,927.6 L2699.8,912.0 L2701.0,902.5 L2702.2,894.9 L2703.3,883.0 L2704.5,895.0 L2705.7,903.8 L2706.8,905.5 L2708.0,914.7 L2709.2,927.6 L2710.6,924.9 L2712.1,906.5 L2713.6,895.6 L2715.0,884.9 L2716.4,887.1 L2717.9,888.1 L2719.4,895.0 L2720.8,900.5 L2722.1,893.0 L2723.4,884.8 L2724.6,880.4 L2725.9,869.4 L2727.2,873.3 L2728.6,880.1 L2730.0,881.0 L2731.3,883.0 L2732.7,874.2 L2734.1,869.1 L2735.5,865.6 L2736.9,855.4 L2738.3,853.9 L2739.6,853.0 L2740.9,856.9 L2742.2,861.8 L2743.4,860.9 L2744.7,863.0 L2746.0,861.6 L2747.2,865.2 L2748.3,863.4 L2749.5,855.4 L2750.7,857.8 L2752.0,874.2 L2753.3,900.4 L2754.6,917.9 L2755.8,914.3 L2757.1,903.2 L2758.3,895.8 L2759.6,888.8 L2760.8,890.0 L2762.0,893.2 L2763.1,891.0 L2764.3,887.8 L2765.5,881.1 L2766.9,869.9 L2768.4,861.1 L2769.9,857.8 L2771.3,857.8 L2772.7,843.1 L2774.0,826.4 L2775.4,808.2 L2776.7,792.0 L2778.0,778.7 L2779.3,761.6 L2780.6,758.1 L2781.8,745.6 L2783.1,730.5 L2784.3,718.9 L2785.5,701.0 L2786.7,689.1 L2787.8,675.1 L2789.0,652.9 L2790.3,624.2 L2791.6,599.1 L2792.9,579.2 L2794.2,589.4 L2795.4,608.5 L2796.7,614.1 L2797.9,620.6 L2799.1,613.9 L2800.2,611.2 L2801.4,600.3 L2802.6,610.2 L2803.8,620.6 L2805.1,641.1 L2806.3,653.5 L2807.6,668.4 L2808.9,669.8 L2810.3,659.0 L2811.7,658.4 L2813.0,652.9 L2814.3,622.7 L2815.6,606.6 L2816.8,582.0 L2818.1,567.5 L2818.1,510.0 L2819.5,498.2 L2820.9,482.6 L2821.9,452.0 L2822.9,426.3 L2824.8,434.1 L2826.2,439.2 L2827.7,457.4 L2829.0,452.4 L2830.3,463.5 L2831.6,460.3 L2833.1,449.6 L2834.5,434.1 L2835.5,447.7 L2836.5,424.4 L2838.4,387.5" fill="none" stroke="#6cbd94" stroke-width="8"/>
<path d="M158.0,1352.5 L159.2,1352.6 L160.6,1352.8 L162.0,1352.3 L163.3,1351.3 L164.7,1350.2 L166.1,1349.7 L167.5,1348.6 L168.8,1347.1 L170.1,1346.5 L171.3,1345.9 L172.6,1345.6 L173.9,1344.4 L175.2,1343.7 L176.5,1343.2 L177.8,1341.9 L179.1,1341.8 L180.6,1342.3 L182.0,1344.1 L183.4,1344.5 L184.9,1344.7 L186.1,1345.0 L187.3,1344.6 L188.4,1344.7 L189.6,1344.0 L190.8,1343.7 L192.1,1343.4 L193.4,1343.0 L194.7,1342.1 L195.9,1340.4 L197.2,1339.8 L198.5,1338.9 L199.8,1338.0 L201.1,1336.6 L202.4,1336.0 L203.7,1334.4 L205.0,1333.1 L206.3,1332.1 L207.6,1329.5 L208.9,1327.4 L210.2,1325.3 L211.5,1324.1 L212.8,1321.0 L214.1,1318.5 L215.4,1319.9 L216.6,1320.3 L217.9,1319.5 L219.1,1320.9 L220.4,1321.0 L221.6,1322.2 L222.8,1321.4 L224.1,1319.9 L225.4,1320.1 L226.7,1320.4 L228.1,1322.9 L229.6,1325.3 L230.9,1326.9 L232.2,1329.3 L233.5,1331.1 L234.7,1330.9 L235.9,1329.6 L237.1,1329.6 L238.3,1330.1 L239.6,1329.2 L240.9,1327.4 L242.2,1326.2 L243.5,1328.8 L244.8,1329.2 L246.1,1331.1 L247.2,1332.6 L248.3,1334.8 L249.4,1336.9 L250.9,1354.4 L252.2,1354.7 L253.5,1355.8 L254.8,1356.3 L256.0,1355.9 L257.2,1354.7 L258.5,1353.4 L259.7,1352.5 L260.9,1351.3 L262.1,1351.5 L263.3,1351.9 L264.5,1351.5 L265.9,1352.6 L267.4,1353.1 L268.9,1352.7 L270.3,1353.4 L271.5,1352.4 L272.7,1351.5 L273.8,1350.9 L275.0,1351.0 L276.2,1350.5 L277.5,1349.3 L278.8,1348.3 L280.0,1346.0 L281.3,1345.5 L282.6,1343.7 L283.9,1342.7 L285.1,1342.6 L286.3,1342.6 L287.4,1342.9 L288.6,1344.7 L289.8,1345.7 L291.1,1344.5 L292.4,1343.6 L293.6,1342.1 L294.9,1341.3 L296.2,1340.1 L297.5,1339.8 L298.9,1339.7 L300.4,1340.3 L301.9,1340.5 L303.3,1340.8 L304.6,1339.7 L305.9,1338.2 L307.2,1337.1 L308.5,1336.4 L309.8,1335.6 L311.1,1333.0 L312.4,1333.6 L313.7,1332.3 L315.0,1332.5 L316.3,1334.1 L317.6,1334.1 L318.9,1334.0 L320.2,1334.8 L321.5,1335.4 L322.8,1336.1 L324.0,1336.2 L325.3,1337.6 L326.6,1338.9 L327.8,1338.0 L329.0,1337.5 L330.1,1337.3 L331.3,1337.3 L332.5,1336.9 L333.9,1336.7 L335.4,1335.7 L336.9,1334.1 L338.3,1333.0 L339.6,1333.7 L340.9,1334.3 L342.1,1334.3 L343.4,1333.7 L344.7,1333.8 L346.0,1335.0 L347.3,1334.9 L348.6,1333.1 L349.9,1331.9 L351.2,1329.4 L352.5,1327.3 L353.8,1326.2 L355.2,1325.9 L356.6,1326.4 L358.0,1327.2 L359.3,1327.6 L360.7,1328.4 L362.1,1327.6 L363.5,1326.2 L364.9,1326.7 L366.3,1329.1 L367.7,1329.5 L369.0,1328.5 L370.4,1328.8 L371.8,1330.1 L373.2,1329.2 L374.6,1329.1 L376.0,1327.8 L377.4,1328.1 L378.7,1328.0 L380.1,1327.4 L381.5,1328.4 L382.9,1327.2 L384.3,1327.0 L385.7,1329.0 L387.1,1328.6 L388.4,1330.9 L389.8,1331.2 L391.2,1330.7 L392.6,1331.1 L394.0,1330.8 L395.4,1330.5 L396.8,1329.8 L398.1,1330.3 L399.5,1327.8 L400.9,1326.9 L402.3,1326.2 L403.6,1328.4 L404.9,1327.2 L406.2,1327.5 L407.5,1327.1 L408.8,1327.0 L410.1,1328.2 L411.3,1328.2 L412.6,1329.0 L413.8,1328.1 L415.1,1327.9 L416.3,1328.5 L417.6,1328.9 L418.8,1328.2 L420.2,1325.3 L421.5,1320.2 L422.9,1318.0 L424.2,1314.0 L425.6,1309.8 L427.1,1307.3 L428.5,1305.6 L429.9,1305.0 L431.4,1302.0 L432.9,1297.5 L434.4,1294.2 L435.7,1292.6 L437.1,1289.9 L438.4,1290.8 L439.8,1290.0 L441.1,1291.3 L442.4,1290.6 L443.7,1287.3 L445.0,1288.5 L446.3,1289.5 L447.6,1292.6 L448.9,1294.2 L450.4,1288.2 L451.8,1282.6 L453.2,1284.2 L454.5,1286.4 L455.9,1286.5 L457.2,1289.4 L458.6,1290.3 L460.1,1289.8 L461.5,1291.1 L462.9,1292.6 L464.4,1291.3 L465.6,1293.0 L466.8,1291.0 L467.9,1291.0 L469.1,1291.2 L470.3,1290.3 L471.7,1283.2 L473.1,1278.8 L474.5,1272.9 L476.0,1285.0 L477.5,1293.6 L479.0,1303.9 L480.2,1305.7 L481.4,1306.3 L482.7,1305.4 L483.9,1304.9 L485.1,1301.5 L486.3,1299.4 L487.5,1296.9 L488.7,1295.2 L490.1,1294.1 L491.4,1295.6 L492.8,1295.0 L494.1,1294.6 L495.5,1297.1 L496.8,1296.4 L498.1,1295.3 L499.4,1294.2 L500.7,1297.8 L502.0,1303.9 L503.3,1309.8 L504.8,1307.7 L506.2,1304.9 L507.7,1303.1 L509.1,1300.0 L510.6,1300.2 L512.0,1300.4 L513.5,1300.2 L514.9,1302.0 L516.4,1303.8 L517.8,1305.0 L519.2,1302.0 L520.7,1303.9 L522.0,1302.5 L523.3,1299.5 L524.6,1297.1 L525.9,1296.2 L527.2,1295.4 L528.5,1294.2 L530.0,1295.3 L531.4,1296.3 L532.8,1298.3 L534.3,1299.1 L535.8,1296.1 L537.2,1293.5 L538.6,1291.6 L540.1,1290.3 L541.3,1292.8 L542.5,1289.9 L543.6,1289.8 L544.8,1288.8 L546.0,1288.4 L547.3,1291.4 L548.6,1294.2 L549.9,1295.0 L551.1,1295.2 L552.4,1294.3 L553.7,1295.2 L554.9,1294.9 L556.2,1292.4 L557.4,1291.4 L558.6,1290.3 L560.5,1278.7 L561.9,1279.4 L563.2,1281.2 L564.6,1281.0 L565.9,1279.7 L567.3,1277.7 L568.8,1277.8 L570.2,1275.8 L571.6,1273.8 L573.1,1273.8 L574.4,1272.8 L575.7,1276.2 L577.0,1277.7 L578.3,1268.0 L579.6,1258.1 L580.9,1251.5 L582.3,1247.5 L583.8,1244.7 L585.1,1250.4 L586.4,1256.5 L587.7,1262.2 L588.9,1258.0 L590.1,1252.3 L591.3,1247.1 L592.5,1244.7 L593.8,1244.1 L595.1,1241.0 L596.4,1242.8 L597.7,1243.0 L599.0,1247.6 L600.3,1253.5 L601.8,1255.8 L603.2,1256.3 L604.6,1255.8 L606.1,1257.3 L607.3,1255.4 L608.5,1254.9 L609.8,1247.4 L611.0,1246.7 L612.2,1240.8 L613.4,1238.9 L614.6,1236.5 L615.8,1234.1 L617.0,1236.0 L618.2,1239.8 L619.3,1241.8 L620.5,1245.1 L621.7,1247.6 L623.0,1239.0 L624.2,1237.0 L625.5,1232.1 L626.5,1221.6 L627.5,1218.5 L628.8,1214.2 L630.1,1213.0 L631.4,1210.8 L632.8,1212.1 L634.3,1215.6 L635.5,1173.8 L636.6,1128.2 L637.8,1115.8 L639.0,1104.9 L640.4,1125.0 L641.7,1136.0 L643.0,1111.0 L644.4,1089.4 L646.0,1119.8 L647.5,1143.7 L649.0,1127.0 L650.4,1115.7 L651.8,1102.1 L653.3,1089.4 L654.7,1079.2 L656.1,1068.0 L657.7,1095.8 L659.2,1124.3 L660.8,1093.4 L662.3,1066.1 L663.4,1075.7 L664.6,1085.2 L665.8,1094.5 L666.9,1097.1 L668.2,1081.9 L669.5,1075.9 L670.8,1066.1 L672.0,1054.8 L673.1,1036.5 L674.3,1023.4 L675.5,1007.9 L677.0,999.4 L678.6,992.3 L680.2,997.2 L681.7,1011.7 L683.0,1006.2 L684.3,989.0 L685.6,976.8 L687.0,964.2 L688.3,963.2 L689.6,979.2 L690.9,974.7 L692.2,976.8 L693.5,968.6 L694.7,953.2 L696.0,936.0 L697.3,927.8 L698.6,933.0 L699.9,945.7 L700.9,981.3 L701.9,1011.7 L703.2,1024.6 L704.4,1036.9 L705.7,1042.8 L707.3,1044.7 L708.9,1058.3 L710.2,1048.9 L711.4,1032.8 L712.7,1031.1 L714.0,1008.3 L715.3,1003.1 L716.6,988.4 L717.9,978.1 L719.2,970.1 L720.5,959.3 L721.9,972.2 L723.2,976.8 L724.5,962.4 L725.9,945.7 L727.2,947.6 L728.5,954.6 L729.8,972.9 L731.1,968.6 L732.3,967.9 L733.6,976.1 L734.9,971.0 L736.1,984.0 L737.4,985.7 L738.6,994.1 L739.9,1017.6 L741.1,1013.5 L742.2,1005.2 L743.4,999.7 L744.6,980.7 L746.0,961.6 L747.5,939.1 L749.0,910.8 L750.4,903.0 L751.7,905.6 L753.0,899.4 L754.3,897.2 L755.6,900.1 L756.9,914.0 L758.2,930.2 L759.5,925.6 L760.7,921.1 L762.0,908.6 L763.2,891.4 L764.5,860.2 L765.8,830.8 L767.1,811.8 L768.5,826.8 L769.8,837.0 L771.3,867.5 L772.9,889.5 L774.1,871.8 L775.2,852.3 L776.4,835.1 L777.7,845.1 L779.0,854.9 L780.3,875.9 L781.8,835.7 L783.4,798.2 L785.0,781.8 L786.5,751.6 L788.0,715.2 L789.5,666.6 L791.1,602.7 L792.4,614.5 L793.7,612.9 L795.0,583.3 L796.5,548.4 L798.1,494.0 L799.4,453.4 L800.7,443.3 L802.0,433.8 L803.4,451.0 L804.7,478.4 L806.1,462.4 L807.5,459.0 L808.6,540.6 L809.6,559.5 L810.6,579.4 L812.5,618.2 L814.4,695.8 L815.6,770.0 L815.6,817.6 L816.0,732.2 L817.1,832.1 L818.3,899.2 L819.8,810.6 L821.4,730.3 L822.7,751.6 L824.0,805.4 L825.3,860.3 L826.6,814.9 L827.9,773.3 L829.2,726.4 L830.4,739.2 L831.5,751.7 L832.7,764.6 L833.9,767.2 L835.2,775.5 L836.4,776.8 L837.7,790.5 L839.0,820.0 L840.3,833.2 L841.6,846.8 L842.8,832.9 L844.0,814.0 L845.1,803.6 L846.3,796.3 L847.8,826.3 L849.4,840.9 L850.7,849.8 L852.0,873.5 L853.3,883.6 L854.8,923.0 L856.4,953.5 L857.5,966.7 L858.7,970.3 L859.9,979.3 L861.0,969.0 L862.2,944.8 L863.4,926.4 L864.5,897.0 L865.7,868.1 L867.2,883.2 L868.8,899.2 L869.9,882.8 L871.1,878.5 L872.2,855.3 L873.4,854.5 L874.7,860.5 L876.0,871.1 L877.3,899.2 L878.6,898.3 L879.8,892.2 L881.1,899.6 L882.4,899.2 L883.7,911.5 L885.0,926.9 L886.3,941.9 L887.6,942.0 L888.9,941.7 L890.3,959.4 L891.6,961.6 L892.9,974.9 L894.1,947.5 L895.4,934.3 L896.6,908.0 L897.9,887.5 L899.4,890.8 L900.8,884.6 L902.2,866.7 L903.7,860.3 L905.0,843.8 L906.3,833.7 L907.6,809.9 L908.9,806.5 L910.2,806.5 L911.5,790.5 L913.0,746.8 L914.6,695.8 L916.5,662.8 L917.9,680.5 L919.3,692.0 L920.4,682.9 L921.6,647.8 L922.8,639.4 L923.9,627.9 L925.2,641.3 L926.5,659.7 L927.7,669.5 L929.0,695.8 L930.4,669.0 L931.7,641.5 L932.9,630.7 L934.2,646.3 L935.4,651.9 L936.7,636.0 L937.9,629.8 L939.2,644.3 L940.6,676.4 L941.9,668.3 L943.2,666.6 L944.5,645.4 L945.8,583.6 L947.1,542.6 L948.4,521.1 L949.8,497.7 L951.1,490.1 L952.4,485.8 L953.7,491.9 L955.0,484.3 L956.5,532.1 L958.1,594.9 L959.7,641.6 L961.2,651.2 L962.5,609.0 L963.9,614.3 L965.5,596.6 L967.0,565.8 L968.2,585.1 L969.4,592.9 L970.5,628.4 L971.7,657.0 L973.0,688.5 L974.2,722.3 L975.5,756.0 L976.9,717.1 L978.3,664.8 L979.5,701.2 L980.8,713.5 L982.0,728.2 L983.3,744.4 L984.6,707.9 L985.9,676.4 L987.2,657.0 L988.5,645.5 L989.9,606.6 L991.2,604.3 L992.5,586.8 L993.7,588.5 L995.0,567.7 L996.3,566.9 L997.5,586.8 L998.8,604.6 L1000.0,583.3 L1001.2,568.3 L1002.3,554.7 L1003.5,543.6 L1004.7,505.6 L1005.9,500.1 L1007.0,512.1 L1008.1,526.9 L1009.3,530.9 L1010.8,463.0 L1012.4,439.6 L1013.7,425.8 L1015.0,400.8 L1016.2,416.0 L1017.5,424.1 L1018.8,448.1 L1020.1,469.1 L1021.4,486.2 L1022.8,425.2 L1024.1,379.5 L1025.2,389.6 L1026.4,404.2 L1027.5,416.2 L1028.7,404.7 L1029.9,368.5 L1031.1,336.8 L1032.4,357.9 L1033.6,367.8 L1034.9,362.0 L1036.3,312.2 L1037.7,288.2 L1039.0,303.4 L1040.2,328.8 L1041.5,311.5 L1042.8,320.6 L1044.1,351.9 L1045.4,334.8 L1046.8,380.2 L1048.1,416.3 L1049.3,454.3 L1050.5,474.6 L1051.8,420.5 L1053.2,377.5 L1054.5,391.8 L1055.8,421.4 L1057.1,455.2 L1059.0,356.2 L1060.9,462.9 L1062.2,433.2 L1063.5,394.4 L1064.7,362.3 L1066.0,330.9 L1067.3,391.2 L1068.6,404.0 L1069.9,451.3 L1071.2,417.7 L1072.6,385.3 L1073.9,376.5 L1075.2,370.5 L1076.5,373.6 L1077.8,434.3 L1079.2,494.0 L1080.8,508.8 L1082.3,521.1 L1083.6,508.1 L1084.9,480.4 L1086.2,470.7 L1087.5,489.5 L1088.8,494.7 L1090.1,497.9 L1091.5,477.8 L1092.9,456.2 L1094.2,474.6 L1095.6,473.9 L1097.0,449.3 L1098.3,464.2 L1099.6,471.6 L1100.9,482.3 L1102.2,518.1 L1103.6,558.0 L1104.8,536.6 L1106.0,534.8 L1107.1,530.5 L1108.3,544.1 L1109.5,513.4 L1111.0,553.4 L1112.6,579.4 L1113.8,596.0 L1114.9,628.4 L1116.0,644.6 L1117.2,680.3 L1118.5,668.2 L1119.8,639.2 L1121.1,616.3 L1122.7,651.1 L1124.2,653.1 L1125.6,639.2 L1126.9,622.1 L1128.2,655.4 L1129.5,671.5 L1130.8,676.4 L1131.8,728.0 L1132.8,770.0 L1134.7,835.1 L1136.0,839.1 L1137.2,836.1 L1138.5,838.9 L1139.8,829.3 L1141.0,826.2 L1142.1,815.8 L1143.2,802.5 L1144.4,786.6 L1145.6,781.0 L1146.8,777.4 L1147.9,768.6 L1149.1,773.0 L1150.2,758.0 L1151.4,740.0 L1152.2,668.7 L1153.7,646.6 L1155.1,648.5 L1156.5,651.4 L1158.0,647.3 L1159.3,657.1 L1160.6,683.6 L1161.9,725.0 L1163.2,704.3 L1164.4,697.3 L1165.7,671.3 L1166.9,659.0 L1168.2,698.5 L1169.5,705.4 L1170.8,734.7 L1172.3,754.3 L1173.9,770.0 L1173.9,798.2 L1175.1,785.4 L1176.2,796.0 L1177.4,790.5 L1178.7,795.1 L1180.0,778.9 L1181.3,755.5 L1182.7,726.9 L1184.0,707.5 L1185.3,716.5 L1186.6,738.5 L1187.9,763.3 L1189.2,780.5 L1190.5,801.3 L1191.8,815.7 L1193.0,805.6 L1194.3,802.1 L1195.5,786.5 L1196.8,761.4 L1198.2,782.6 L1199.5,807.9 L1200.8,788.7 L1202.1,753.5 L1203.4,740.0 L1205.0,721.2 L1206.5,715.2 L1207.8,709.4 L1209.1,708.8 L1210.4,683.9 L1211.7,672.4 L1213.0,679.9 L1214.3,672.5 L1215.8,632.5 L1217.2,621.9 L1218.6,636.2 L1220.1,608.5 L1221.4,626.4 L1222.7,607.6 L1224.0,633.7 L1225.3,602.1 L1226.6,591.1 L1227.9,581.3 L1229.2,589.7 L1230.5,614.6 L1231.8,660.9 L1233.1,646.3 L1234.3,649.3 L1235.6,641.5 L1236.9,677.8 L1238.2,693.0 L1239.5,703.6 L1240.8,686.8 L1242.2,676.4 L1243.8,685.6 L1245.3,699.7 L1246.6,701.8 L1247.9,693.0 L1249.2,676.4 L1250.5,700.8 L1251.8,715.5 L1253.1,719.1 L1254.7,711.7 L1256.2,699.7 L1257.5,723.5 L1258.8,738.0 L1260.1,758.0 L1261.4,756.0 L1262.7,752.7 L1264.1,735.8 L1265.4,718.1 L1266.7,713.3 L1268.2,738.2 L1269.8,770.0 L1270.6,778.8 L1271.9,808.2 L1273.3,856.5 L1274.8,896.5 L1276.4,930.2 L1277.7,920.2 L1279.0,916.0 L1280.3,895.3 L1281.5,906.3 L1282.6,935.9 L1283.8,938.1 L1284.9,943.8 L1286.2,946.2 L1287.5,937.9 L1288.7,930.2 L1290.0,918.6 L1291.3,942.9 L1292.6,950.9 L1293.9,961.3 L1295.2,966.4 L1296.6,988.4 L1297.9,964.3 L1299.2,943.6 L1300.5,930.2 L1301.8,946.3 L1303.0,953.1 L1304.2,961.2 L1305.5,976.8 L1306.8,982.1 L1308.0,970.8 L1309.3,965.7 L1310.6,961.3 L1311.8,968.1 L1312.9,964.6 L1314.0,969.2 L1315.2,976.8 L1316.8,1006.1 L1318.3,1035.0 L1319.7,1072.0 L1321.0,1108.8 L1322.3,1127.5 L1323.6,1136.8 L1324.9,1155.4 L1326.2,1147.9 L1327.5,1136.9 L1328.8,1128.2 L1330.1,1114.4 L1331.4,1105.1 L1332.7,1101.0 L1334.2,1104.4 L1335.6,1112.2 L1337.0,1128.3 L1338.5,1139.8 L1339.7,1139.6 L1340.8,1130.6 L1342.0,1126.9 L1343.2,1112.7 L1344.5,1115.4 L1345.7,1124.7 L1347.0,1136.0 L1348.3,1133.8 L1349.5,1124.5 L1350.8,1111.7 L1352.1,1101.0 L1353.4,1107.1 L1354.7,1126.8 L1356.0,1145.7 L1357.3,1126.3 L1358.6,1118.4 L1359.9,1097.1 L1361.4,1084.6 L1362.8,1065.0 L1364.2,1040.7 L1365.7,1027.3 L1366.8,1020.3 L1368.0,1026.7 L1369.2,1021.2 L1370.3,1021.4 L1371.6,1031.6 L1372.9,1045.1 L1374.2,1054.4 L1375.5,1034.3 L1376.8,1012.9 L1378.1,988.4 L1379.4,993.3 L1380.7,1011.1 L1381.9,1012.6 L1383.2,1015.6 L1384.5,1013.0 L1385.7,1005.7 L1387.0,988.4 L1388.2,991.8 L1389.4,993.6 L1390.5,991.7 L1391.7,997.2 L1392.9,994.3 L1394.3,980.0 L1395.7,959.7 L1397.2,957.5 L1398.6,942.9 L1400.0,933.2 L1401.2,940.2 L1402.3,950.0 L1403.5,954.0 L1404.7,964.2 L1406.0,988.6 L1407.2,996.9 L1408.5,1022.5 L1409.8,1009.2 L1411.0,1009.3 L1412.3,1005.0 L1413.6,997.2 L1414.9,1013.3 L1416.2,1031.7 L1417.5,1055.5 L1418.8,1044.2 L1420.0,1027.4 L1421.2,1029.2 L1422.5,1022.5 L1423.8,1023.6 L1425.1,1019.6 L1426.5,1019.2 L1427.8,1019.5 L1429.1,1018.6 L1430.5,1009.2 L1432.0,1005.2 L1433.5,985.4 L1434.9,977.8 L1436.2,996.6 L1437.5,1000.0 L1438.8,1010.8 L1440.1,1022.7 L1441.4,1030.2 L1442.7,1049.6 L1444.2,1055.5 L1445.8,1069.0 L1447.2,1084.3 L1448.5,1096.2 L1450.0,1093.5 L1451.4,1087.8 L1452.8,1076.0 L1454.3,1078.7 L1455.5,1080.9 L1456.7,1086.8 L1457.8,1078.6 L1459.0,1084.0 L1460.2,1088.4 L1461.5,1087.6 L1462.7,1076.8 L1464.0,1076.7 L1465.2,1072.9 L1466.5,1075.4 L1467.8,1079.2 L1469.2,1078.2 L1470.5,1081.1 L1471.8,1084.6 L1473.1,1089.6 L1474.4,1087.2 L1475.7,1096.5 L1477.0,1089.0 L1478.3,1086.4 L1479.6,1090.4 L1481.0,1082.4 L1482.5,1084.7 L1484.0,1086.0 L1485.4,1082.6 L1486.9,1077.6 L1488.3,1081.4 L1489.8,1075.4 L1491.2,1072.9 L1492.5,1059.2 L1493.8,1049.6 L1495.1,1022.5 L1496.4,1016.7 L1497.7,1011.6 L1499.0,1012.7 L1500.3,1021.1 L1501.6,1030.8 L1502.9,1034.1 L1504.2,1030.4 L1505.5,1017.4 L1506.8,1008.9 L1508.1,1014.2 L1509.3,1028.6 L1510.6,1034.1 L1511.6,1083.3 L1512.6,1131.1 L1513.8,1129.7 L1514.9,1118.5 L1516.0,1104.1 L1517.2,1098.2 L1518.5,1102.9 L1519.8,1103.8 L1521.0,1101.1 L1522.3,1107.9 L1523.8,1106.7 L1525.2,1111.7 L1526.6,1123.3 L1528.1,1129.2 L1529.5,1124.0 L1531.0,1119.0 L1532.5,1114.4 L1533.9,1111.7 L1535.1,1111.4 L1536.3,1106.3 L1537.4,1097.4 L1538.6,1092.8 L1539.8,1086.5 L1541.2,1088.9 L1542.6,1095.2 L1543.9,1099.4 L1545.3,1096.7 L1546.7,1098.2 L1547.9,1095.1 L1549.1,1089.8 L1550.2,1092.6 L1551.4,1092.3 L1552.7,1096.6 L1553.9,1093.4 L1555.2,1083.5 L1556.4,1082.6 L1557.6,1095.3 L1558.8,1101.9 L1559.9,1109.3 L1561.1,1115.6 L1562.4,1113.4 L1563.7,1109.1 L1565.0,1112.3 L1566.3,1107.5 L1567.6,1102.1 L1568.9,1104.0 L1570.2,1106.2 L1571.5,1108.2 L1572.8,1109.5 L1574.0,1108.2 L1575.3,1108.5 L1576.6,1109.8 L1577.9,1110.6 L1579.2,1102.7 L1580.5,1109.1 L1581.8,1107.3 L1583.1,1105.2 L1584.4,1104.0 L1585.7,1098.6 L1587.0,1092.4 L1588.4,1089.9 L1589.7,1091.9 L1591.0,1088.4 L1592.2,1084.6 L1593.5,1071.7 L1594.8,1069.2 L1596.0,1057.4 L1597.3,1052.0 L1598.6,1038.8 L1599.9,1026.3 L1601.4,1019.5 L1602.8,1012.7 L1604.2,1012.0 L1605.7,1006.9 L1606.9,1009.9 L1608.1,1020.8 L1609.2,1020.2 L1610.4,1022.6 L1611.6,1026.3 L1613.0,1017.9 L1614.5,1012.9 L1616.0,1009.5 L1617.4,1010.8 L1618.9,1009.3 L1620.3,1010.8 L1621.8,1012.6 L1623.2,1022.5 L1624.7,1010.9 L1626.1,1006.3 L1627.5,1005.2 L1629.0,1003.0 L1630.2,1011.0 L1631.4,1017.1 L1632.5,1018.4 L1633.7,1027.4 L1634.9,1038.0 L1636.2,1020.6 L1637.4,1016.9 L1638.7,1009.2 L1639.9,999.2 L1641.2,995.2 L1642.6,997.3 L1644.0,994.8 L1645.3,997.2 L1646.6,998.2 L1647.8,1008.5 L1649.1,1002.5 L1650.3,999.9 L1651.6,1014.7 L1652.9,1015.0 L1654.2,1018.9 L1655.6,1008.4 L1656.9,1006.8 L1658.2,1006.9 L1659.7,1013.3 L1661.1,1013.2 L1662.5,1022.9 L1664.0,1026.3 L1665.5,1023.5 L1666.9,1041.3 L1668.3,1046.2 L1669.8,1057.4 L1671.1,1039.4 L1672.4,1020.0 L1673.7,1010.8 L1675.0,1008.8 L1676.2,997.0 L1677.5,991.3 L1678.7,975.9 L1680.0,961.6 L1681.3,968.0 L1682.7,959.7 L1684.0,963.8 L1685.3,970.0 L1686.8,973.2 L1688.2,983.7 L1689.6,986.8 L1691.1,989.5 L1692.3,985.5 L1693.5,984.2 L1694.6,982.5 L1695.8,972.4 L1697.0,968.1 L1698.3,960.3 L1699.6,974.4 L1700.8,977.6 L1702.1,967.0 L1703.4,965.8 L1704.7,948.7 L1706.0,945.5 L1707.2,954.3 L1708.5,951.3 L1709.8,956.5 L1711.1,937.2 L1712.4,923.9 L1713.7,909.9 L1714.8,894.4 L1716.0,889.5 L1717.2,905.3 L1718.3,900.2 L1719.6,914.3 L1720.9,932.2 L1722.2,937.0 L1723.5,949.9 L1724.8,958.5 L1726.1,960.3 L1727.5,962.6 L1729.0,963.8 L1730.5,955.4 L1731.9,950.6 L1733.2,949.4 L1734.5,955.1 L1735.7,962.9 L1737.0,964.2 L1738.3,943.9 L1739.7,941.3 L1741.1,942.9 L1742.4,929.3 L1744.0,945.5 L1745.5,956.5 L1747.0,945.5 L1748.4,966.2 L1749.8,974.8 L1751.3,972.0 L1752.6,973.3 L1753.9,971.1 L1755.2,973.3 L1756.5,971.1 L1757.8,967.6 L1759.1,970.0 L1760.4,970.2 L1761.7,973.8 L1762.9,968.6 L1764.2,963.1 L1765.5,966.5 L1766.8,970.0 L1768.0,957.4 L1769.2,958.1 L1770.3,963.2 L1771.5,952.8 L1772.7,948.7 L1774.2,959.1 L1775.6,951.9 L1777.0,954.4 L1778.5,958.4 L1780.0,956.2 L1781.4,953.7 L1782.8,954.1 L1784.3,952.6 L1785.8,964.4 L1787.2,965.5 L1788.6,978.0 L1790.1,983.6 L1791.4,990.7 L1792.7,1002.2 L1794.0,1006.9 L1795.3,990.6 L1796.6,993.7 L1797.9,991.4 L1799.4,977.7 L1800.8,963.1 L1802.2,963.4 L1803.7,952.6 L1805.1,953.9 L1806.5,956.2 L1807.9,964.6 L1809.3,948.1 L1810.7,958.4 L1811.9,949.3 L1813.1,943.0 L1814.2,943.8 L1815.4,942.9 L1816.6,930.2 L1817.7,938.1 L1818.8,940.7 L1820.0,937.0 L1821.3,938.0 L1822.5,932.1 L1823.8,942.9 L1825.1,958.4 L1826.3,958.2 L1827.6,959.1 L1828.8,953.3 L1830.1,952.6 L1831.1,935.3 L1832.1,925.4 L1833.2,938.6 L1834.4,947.0 L1835.5,954.8 L1836.7,948.7 L1838.0,953.4 L1839.3,947.4 L1840.6,940.2 L1841.9,944.2 L1843.2,942.4 L1844.5,958.4 L1845.8,957.4 L1847.1,953.1 L1848.4,955.9 L1849.7,945.8 L1851.0,948.1 L1852.3,956.5 L1853.6,957.8 L1854.9,956.5 L1856.2,966.3 L1857.4,960.9 L1858.7,965.6 L1860.0,964.2 L1861.3,963.2 L1862.6,955.0 L1863.9,956.1 L1865.2,956.9 L1866.5,965.7 L1867.8,960.3 L1869.1,968.4 L1870.4,961.6 L1871.8,961.4 L1873.1,968.3 L1874.4,964.2 L1875.7,976.3 L1877.0,983.3 L1878.3,999.2 L1879.7,1004.4 L1881.1,1003.0 L1882.4,1008.5 L1883.8,1006.7 L1885.2,1008.9 L1886.4,1006.0 L1887.6,1003.3 L1888.7,1000.8 L1889.9,1005.0 L1891.5,995.7 L1893.0,989.5 L1894.5,991.9 L1896.1,1010.8 L1897.4,1006.2 L1898.7,1004.8 L1900.1,1003.9 L1901.4,1008.5 L1902.7,1008.9 L1904.0,1013.3 L1905.3,1019.8 L1906.7,1023.9 L1908.0,1029.9 L1909.3,1030.2 L1910.6,1022.2 L1911.8,1010.3 L1913.1,1010.4 L1914.4,1010.8 L1915.9,1012.9 L1917.3,1013.0 L1918.8,1007.5 L1920.2,1008.9 L1921.7,1008.2 L1923.1,1001.9 L1924.5,1003.3 L1926.0,1020.5 L1927.5,1016.4 L1928.9,1020.1 L1930.3,1010.4 L1931.8,1010.8 L1933.1,1006.9 L1934.4,999.4 L1935.7,987.5 L1936.9,998.1 L1938.1,999.2 L1939.2,1014.0 L1940.4,1010.8 L1941.7,1007.9 L1942.9,1009.6 L1944.2,1006.7 L1945.4,1018.6 L1946.7,1021.6 L1948.0,1016.6 L1949.2,1025.3 L1950.5,1032.2 L1951.7,1026.4 L1952.9,1031.7 L1954.1,1034.8 L1955.4,1028.3 L1956.6,1021.5 L1957.8,1019.6 L1959.0,1022.5 L1960.5,1020.2 L1961.9,1017.5 L1963.3,1002.6 L1964.8,979.8 L1966.0,964.6 L1967.2,970.2 L1968.3,972.8 L1969.5,976.3 L1970.7,972.0 L1972.2,969.7 L1973.6,970.1 L1975.0,970.4 L1976.5,968.1 L1978.0,961.6 L1979.4,952.4 L1980.8,953.6 L1982.3,952.6 L1983.5,956.4 L1984.7,942.1 L1985.8,921.1 L1987.0,900.2 L1988.2,906.6 L1989.5,925.7 L1990.8,929.8 L1992.0,931.2 L1993.5,923.0 L1994.9,923.3 L1996.3,920.3 L1997.8,915.7 L1999.1,928.5 L2000.4,932.4 L2001.7,939.0 L2003.2,935.7 L2004.6,942.7 L2006.0,920.2 L2007.5,909.9 L2008.7,916.5 L2009.9,918.4 L2011.0,921.2 L2012.2,923.0 L2013.4,919.6 L2014.9,908.7 L2016.3,903.9 L2017.8,886.3 L2019.2,874.9 L2020.7,879.4 L2022.1,869.1 L2023.5,863.5 L2025.0,847.8 L2026.5,858.6 L2027.9,870.5 L2029.3,866.5 L2030.8,880.8 L2032.2,879.2 L2033.5,855.5 L2034.8,863.3 L2036.0,869.2 L2037.3,877.2 L2038.6,886.6 L2040.0,869.2 L2041.5,864.8 L2043.0,853.7 L2044.4,855.5 L2045.6,859.3 L2046.8,843.1 L2047.9,863.7 L2049.1,873.0 L2050.3,855.6 L2051.6,848.6 L2052.8,839.9 L2054.1,845.8 L2055.4,846.7 L2056.6,862.6 L2057.9,864.6 L2059.2,878.8 L2060.5,869.5 L2061.9,855.3 L2063.2,855.9 L2064.6,849.7 L2065.8,840.0 L2066.9,810.6 L2068.1,786.8 L2069.2,791.0 L2070.4,816.8 L2071.5,827.9 L2072.7,819.8 L2074.0,785.3 L2075.3,797.0 L2076.6,794.6 L2077.9,784.0 L2079.1,794.1 L2080.4,803.0 L2081.7,823.7 L2083.0,838.1 L2084.3,846.6 L2085.6,866.4 L2086.8,863.7 L2087.9,868.4 L2089.0,868.6 L2090.2,872.3 L2091.5,865.1 L2092.8,856.6 L2094.1,850.9 L2095.6,854.4 L2097.0,854.9 L2098.4,854.5 L2099.9,858.7 L2101.2,850.6 L2102.4,840.2 L2103.7,843.6 L2105.0,831.5 L2106.2,823.7 L2107.3,808.0 L2108.4,806.6 L2109.6,808.2 L2111.1,760.8 L2112.7,750.0 L2114.0,738.5 L2115.3,741.7 L2116.6,742.2 L2117.9,724.8 L2119.2,706.3 L2120.5,699.5 L2121.7,729.9 L2122.8,718.5 L2124.0,716.1 L2125.2,715.0 L2126.3,680.5 L2127.5,661.8 L2128.7,653.9 L2129.8,621.9 L2131.1,615.0 L2132.4,598.9 L2133.7,606.3 L2135.0,589.5 L2136.3,582.2 L2137.6,563.6 L2139.1,546.5 L2140.7,513.2 L2142.0,499.0 L2143.3,523.5 L2144.6,493.8 L2145.9,480.1 L2147.3,458.8 L2148.9,454.5 L2150.4,493.8 L2151.8,535.8 L2153.1,567.5 L2154.4,591.2 L2155.7,630.0 L2157.0,664.6 L2158.3,645.1 L2159.6,620.5 L2160.9,621.9 L2162.2,611.7 L2163.5,596.3 L2164.8,567.5 L2166.1,566.0 L2167.3,584.1 L2168.6,583.0 L2169.9,577.7 L2171.2,562.5 L2172.5,553.9 L2173.8,587.6 L2175.1,611.4 L2176.4,637.4 L2177.7,619.4 L2179.0,610.1 L2180.3,621.9 L2181.9,597.0 L2183.4,544.2 L2184.7,578.9 L2186.0,582.8 L2187.3,579.2 L2188.9,636.5 L2190.4,691.7 L2191.8,693.4 L2193.1,692.0 L2194.5,690.6 L2195.8,703.4 L2197.1,697.7 L2198.4,674.1 L2199.6,667.2 L2200.9,652.9 L2202.2,665.4 L2203.4,667.3 L2204.7,668.4 L2206.0,669.1 L2207.3,649.3 L2208.6,641.3 L2209.9,649.8 L2211.2,681.5 L2212.5,705.3 L2213.8,701.5 L2215.0,687.2 L2216.2,668.2 L2217.5,668.4 L2218.7,675.7 L2219.8,685.4 L2221.0,697.8 L2222.2,715.0 L2223.5,715.3 L2224.8,703.5 L2226.1,691.7 L2227.4,712.7 L2228.7,719.3 L2230.0,726.7 L2231.2,704.5 L2232.3,702.1 L2233.4,694.7 L2234.6,676.2 L2236.1,580.4 L2237.7,528.7 L2238.9,533.5 L2240.1,530.0 L2241.2,535.7 L2242.4,532.6 L2243.7,528.9 L2245.0,517.7 L2246.3,497.6 L2247.6,520.7 L2248.8,522.5 L2250.1,510.3 L2251.3,528.7 L2252.6,535.0 L2253.9,533.9 L2255.2,524.8 L2256.5,516.2 L2257.8,509.0 L2259.1,503.5 L2260.4,501.8 L2261.7,524.4 L2263.0,544.2 L2264.3,562.0 L2265.5,583.1 L2266.8,590.8 L2268.0,568.2 L2269.2,571.3 L2270.3,585.3 L2271.5,572.5 L2272.7,559.8 L2273.8,566.8 L2275.0,565.7 L2276.2,588.8 L2277.3,590.8 L2278.6,605.1 L2279.9,623.1 L2281.1,621.3 L2282.4,618.0 L2283.7,607.2 L2284.9,618.3 L2286.2,619.1 L2287.4,600.5 L2288.8,590.9 L2290.2,598.9 L2291.5,594.9 L2292.9,602.5 L2294.4,634.2 L2296.0,680.1 L2297.2,679.0 L2298.3,690.5 L2299.4,702.6 L2300.6,717.0 L2301.9,694.7 L2303.1,679.4 L2304.4,689.0 L2305.7,668.4 L2306.9,649.3 L2308.2,638.9 L2309.4,612.9 L2310.7,590.8 L2311.9,592.8 L2313.1,596.6 L2314.2,616.6 L2315.4,610.2 L2316.7,598.4 L2318.0,592.3 L2319.3,579.2 L2320.5,605.5 L2321.6,650.0 L2322.8,654.1 L2323.9,660.7 L2325.2,650.3 L2326.4,639.6 L2327.7,628.9 L2329.0,629.6 L2330.2,653.7 L2331.5,686.2 L2332.8,688.9 L2334.0,668.4 L2335.3,727.1 L2336.7,769.4 L2338.2,803.2 L2339.8,850.9 L2341.0,835.4 L2342.1,818.9 L2343.3,796.6 L2344.6,791.6 L2345.9,785.8 L2347.2,763.6 L2348.5,766.6 L2349.8,786.9 L2351.0,788.4 L2352.3,792.7 L2353.6,786.6 L2354.8,785.6 L2356.1,794.8 L2357.3,796.6 L2358.6,793.4 L2359.9,786.4 L2361.2,753.9 L2362.3,770.5 L2363.5,787.1 L2364.7,787.8 L2365.8,812.1 L2367.0,811.0 L2368.2,805.8 L2369.3,809.8 L2370.5,817.8 L2371.7,823.7 L2373.1,812.8 L2374.4,806.3 L2375.7,847.3 L2377.0,855.7 L2378.3,876.1 L2379.6,863.2 L2380.8,862.5 L2382.1,854.5 L2383.3,843.1 L2384.6,832.4 L2385.9,835.1 L2387.2,827.6 L2388.4,832.8 L2389.7,840.3 L2390.9,852.3 L2392.2,858.7 L2393.6,844.3 L2394.9,834.7 L2396.3,811.5 L2397.7,792.7 L2398.9,789.0 L2400.2,791.1 L2401.4,792.0 L2402.7,783.0 L2404.0,774.6 L2405.3,772.6 L2406.6,769.4 L2407.9,785.8 L2409.2,799.7 L2410.5,808.2 L2411.8,818.2 L2413.1,826.3 L2414.4,847.0 L2415.8,845.1 L2417.3,841.2 L2418.8,831.7 L2420.2,829.5 L2421.6,810.7 L2423.1,819.4 L2424.6,831.3 L2426.0,831.5 L2427.3,816.0 L2428.6,796.3 L2429.9,786.8 L2431.2,782.2 L2432.5,780.9 L2433.8,788.8 L2435.4,764.9 L2436.9,759.7 L2438.1,772.1 L2439.2,780.1 L2440.3,783.4 L2441.5,808.2 L2442.8,809.9 L2444.1,817.7 L2445.4,831.5 L2446.7,810.7 L2448.0,799.7 L2449.3,779.1 L2450.6,789.7 L2451.9,797.8 L2453.2,812.1 L2454.5,811.6 L2455.8,824.8 L2457.1,839.3 L2458.4,792.5 L2459.6,741.3 L2460.9,691.7 L2462.2,656.7 L2463.5,639.0 L2464.8,614.1 L2466.1,653.2 L2467.4,688.8 L2468.7,687.9 L2470.0,669.9 L2471.2,652.8 L2472.5,657.6 L2473.8,652.9 L2475.2,678.4 L2476.5,684.0 L2477.8,680.8 L2479.1,640.8 L2480.4,614.1 L2481.7,611.5 L2482.9,609.7 L2484.2,621.9 L2485.6,576.9 L2487.0,552.0 L2488.3,550.9 L2489.5,543.7 L2490.8,544.2 L2492.4,530.8 L2493.9,517.0 L2495.4,482.9 L2497.0,474.3 L2498.3,485.4 L2499.6,478.0 L2500.9,470.5 L2501.9,517.0 L2502.9,555.9 L2504.1,528.2 L2505.2,518.3 L2506.4,501.5 L2507.8,507.4 L2509.2,483.0 L2510.6,478.2 L2511.8,495.8 L2512.9,531.6 L2514.1,598.6 L2515.4,605.7 L2516.7,622.7 L2518.0,637.4 L2519.3,613.9 L2520.6,598.6 L2521.9,588.9 L2523.2,595.6 L2524.5,608.3 L2525.8,627.7 L2527.1,636.9 L2528.3,628.7 L2529.6,640.3 L2530.8,618.0 L2532.1,606.2 L2533.4,573.3 L2534.7,552.0 L2536.2,532.0 L2537.8,546.2 L2539.2,603.2 L2540.5,649.0 L2541.7,660.7 L2542.9,647.9 L2544.0,638.1 L2545.2,650.1 L2546.4,668.4 L2547.8,642.9 L2549.1,602.5 L2550.6,589.3 L2552.2,592.7 L2553.5,627.1 L2554.8,642.7 L2556.1,649.0 L2557.4,637.4 L2558.6,632.3 L2559.9,625.7 L2561.1,619.3 L2562.2,647.7 L2563.4,663.3 L2564.6,680.1 L2565.8,660.5 L2567.1,658.9 L2568.3,656.3 L2569.6,633.5 L2570.9,683.1 L2572.2,713.2 L2573.5,730.6 L2574.8,752.9 L2576.1,756.7 L2577.3,765.0 L2578.6,769.4 L2579.8,773.5 L2580.9,774.9 L2582.0,781.3 L2583.2,790.7 L2584.4,793.1 L2585.6,784.2 L2586.7,775.7 L2587.9,767.1 L2589.1,761.6 L2590.3,776.1 L2591.6,784.7 L2592.8,778.9 L2594.1,775.2 L2595.4,772.2 L2596.8,763.2 L2598.2,753.2 L2599.5,742.2 L2600.8,754.8 L2602.1,785.0 L2603.4,812.1 L2604.7,803.1 L2605.9,807.4 L2607.2,809.8 L2608.5,808.2 L2608.5,873.3 L2609.9,882.5 L2611.3,885.9 L2612.7,887.3 L2614.1,881.1 L2615.4,900.1 L2616.6,913.7 L2617.9,927.6 L2619.2,937.9 L2620.5,963.5 L2621.8,956.8 L2623.2,953.1 L2624.7,947.5 L2626.2,944.4 L2627.6,943.2 L2628.9,933.3 L2630.2,924.7 L2631.5,919.9 L2632.8,924.5 L2634.1,923.3 L2635.3,918.7 L2636.6,912.1 L2637.8,917.6 L2638.9,926.3 L2640.0,923.7 L2641.2,939.3 L2642.4,944.8 L2643.6,956.4 L2644.7,945.0 L2645.9,951.9 L2647.1,954.8 L2648.4,964.4 L2649.6,971.6 L2650.9,974.2 L2652.3,994.6 L2653.7,1009.2 L2655.2,1022.8 L2656.8,1048.0 L2658.1,1032.4 L2659.3,1020.7 L2660.6,1005.3 L2661.8,1003.7 L2663.0,1005.3 L2664.1,1014.2 L2665.3,1012.5 L2666.5,1020.8 L2667.9,1013.7 L2669.4,1012.6 L2670.9,1011.3 L2672.3,1018.9 L2673.6,1015.3 L2674.9,989.4 L2676.2,978.1 L2677.6,979.0 L2679.1,969.5 L2680.6,970.5 L2682.0,968.4 L2683.4,969.7 L2684.9,959.8 L2686.4,954.8 L2687.8,964.5 L2689.2,961.0 L2690.7,956.2 L2692.2,955.6 L2693.6,966.5 L2695.0,929.8 L2696.4,881.1 L2696.4,847.0 L2697.7,796.6 L2699.0,779.0 L2700.3,773.9 L2701.6,773.3 L2702.9,794.7 L2704.2,806.5 L2705.5,817.9 L2706.8,813.6 L2708.1,812.9 L2709.3,805.0 L2710.6,808.2 L2711.9,803.2 L2713.1,794.8 L2714.4,777.1 L2715.7,783.0 L2717.0,792.1 L2718.3,804.3 L2719.6,791.4 L2720.9,776.0 L2722.2,773.3 L2723.4,779.6 L2724.6,790.7 L2725.7,798.8 L2726.9,800.4 L2728.2,801.6 L2729.4,798.2 L2730.7,790.7 L2732.1,792.1 L2733.5,831.5 L2735.1,796.7 L2736.6,769.4 L2737.9,754.1 L2739.3,742.2 L2740.9,754.8 L2742.4,777.1 L2743.6,803.3 L2744.7,804.6 L2745.8,806.4 L2747.0,804.3 L2748.3,804.3 L2749.6,796.4 L2750.8,802.7 L2752.1,812.1 L2753.4,842.8 L2754.8,874.2 L2756.1,865.2 L2757.4,860.9 L2758.6,848.4 L2759.9,843.1 L2761.2,832.0 L2762.4,824.5 L2763.7,812.1 L2765.0,810.3 L2766.3,826.9 L2767.6,833.4 L2769.1,816.5 L2770.7,796.6 L2771.9,806.8 L2773.0,794.1 L2774.2,804.3 L2775.8,762.6 L2777.3,711.1 L2778.5,714.3 L2779.7,714.8 L2780.8,702.7 L2782.0,699.5 L2783.3,651.8 L2784.6,632.8 L2785.9,614.1 L2787.2,592.1 L2788.5,582.0 L2789.8,555.9 L2791.4,521.4 L2792.9,528.7 L2794.2,543.7 L2795.4,549.2 L2796.7,555.9 L2798.0,539.9 L2799.3,531.7 L2800.6,503.5 L2801.9,507.6 L2803.2,505.3 L2804.5,517.0 L2805.8,546.4 L2807.1,588.2 L2808.4,610.2 L2809.6,594.4 L2810.7,570.3 L2811.8,563.6 L2813.0,548.1 L2813.2,472.9 L2815.1,414.7 L2816.1,424.3 L2817.1,410.8 L2819.0,422.5 L2820.4,337.0 L2822.3,302.1 L2824.2,317.6 L2825.5,351.8 L2826.8,395.3 L2828.2,419.6 L2829.7,455.5 L2831.6,414.7 L2833.2,317.6 L2834.1,283.7 L2835.3,311.2 L2836.5,298.2 L2838.4,387.5" fill="none" stroke="#e5ba59" stroke-width="8"/>
</g>
<path d="M2839.2,244.2 V1385.0 M156.0,1383.0 H2858.1 M138.7,1383.0 H158.0 M138.7,1098.8 H160.0 M138.7,814.6 H160.0 M138.7,530.4 H160.0 M138.7,246.2 H160.0 M2839.2,1155.6 H2858.1 M2839.2,928.3 H2858.1 M2839.2,700.9 H2858.1 M2839.2,473.6 H2858.1 M2839.2,246.2 H2858.1 M633.4,1383.0 V1401.5 M1107.5,1383.0 V1401.5 M1581.7,1383.0 V1401.5 M2055.8,1383.0 V1401.5 M2531.2,1383.0 V1401.5" fill="none" stroke="#ebebeb" stroke-width="4" stroke-linecap="butt"/>
<text x="30.16" y="69.4" font-size="56.4" fill="#fff" font-weight="bold" textLength="693.12" lengthAdjust="spacingAndGlyphs">ETH Futures Open Interest</text>
<text x="30.26" y="197.0" font-size="43.3" fill="#6cbd94" font-weight="bold" textLength="859.62" lengthAdjust="spacingAndGlyphs">ETH Futures Open Interest (in US$ Billion)</text>
<text x="2995.19" y="196.8" font-size="43.3" fill="#e5ba59" text-anchor="end" font-weight="bold" textLength="371.6" lengthAdjust="spacingAndGlyphs">ETH Price (in US$)</text>
<text x="129.7" y="258.8" font-size="39" fill="#fff" text-anchor="end" textLength="99.26" lengthAdjust="spacingAndGlyphs">$40B</text>
<text x="129.7" y="543.0" font-size="39" fill="#fff" text-anchor="end" textLength="99.26" lengthAdjust="spacingAndGlyphs">$30B</text>
<text x="129.7" y="827.2" font-size="39" fill="#fff" text-anchor="end" textLength="99.26" lengthAdjust="spacingAndGlyphs">$20B</text>
<text x="129.85" y="1111.4" font-size="39" fill="#fff" text-anchor="end" textLength="97.53" lengthAdjust="spacingAndGlyphs">$10B</text>
<text x="129.75" y="1395.6" font-size="39" fill="#fff" text-anchor="end" textLength="76.79" lengthAdjust="spacingAndGlyphs">$0B</text>
<text x="2869.24" y="258.8" font-size="39" fill="#fff" textLength="124.99" lengthAdjust="spacingAndGlyphs">$5000</text>
<text x="2869.24" y="486.2" font-size="39" fill="#fff" textLength="124.99" lengthAdjust="spacingAndGlyphs">$4000</text>
<text x="2869.24" y="713.5" font-size="39" fill="#fff" textLength="124.99" lengthAdjust="spacingAndGlyphs">$3000</text>
<text x="2869.24" y="940.9" font-size="39" fill="#fff" textLength="124.99" lengthAdjust="spacingAndGlyphs">$2000</text>
<text x="2869.39" y="1168.2" font-size="39" fill="#fff" textLength="122.7" lengthAdjust="spacingAndGlyphs">$1000</text>
<text x="2869.4" y="1395.6" font-size="39" fill="#fff" textLength="49.24" lengthAdjust="spacingAndGlyphs">$0</text>
<text x="157.65" y="1436.1" font-size="39" fill="#fff" text-anchor="middle" textLength="181.71" lengthAdjust="spacingAndGlyphs">01-Jan-20</text>
<text x="633.68" y="1436.1" font-size="39" fill="#fff" text-anchor="middle" textLength="177.34" lengthAdjust="spacingAndGlyphs">01-Jan-21</text>
<text x="1107.77" y="1436.1" font-size="39" fill="#fff" text-anchor="middle" textLength="181.66" lengthAdjust="spacingAndGlyphs">01-Jan-22</text>
<text x="1581.57" y="1436.1" font-size="39" fill="#fff" text-anchor="middle" textLength="181.35" lengthAdjust="spacingAndGlyphs">01-Jan-23</text>
<text x="2055.66" y="1436.1" font-size="39" fill="#fff" text-anchor="middle" textLength="181.27" lengthAdjust="spacingAndGlyphs">01-Jan-24</text>
<text x="2531.31" y="1436.1" font-size="39" fill="#fff" text-anchor="middle" textLength="177.95" lengthAdjust="spacingAndGlyphs">01-Jan-25</text>
<text x="28.63" y="1541.7" font-size="39" fill="#fff" textLength="669.97" lengthAdjust="spacingAndGlyphs">Source: CoinEx Research, Glassnode</text>
<text x="29.4" y="1593.8" font-size="39" fill="#fff" textLength="420.61" lengthAdjust="spacingAndGlyphs">Data as of 26 Aug 2025</text>
</svg></body></html>
